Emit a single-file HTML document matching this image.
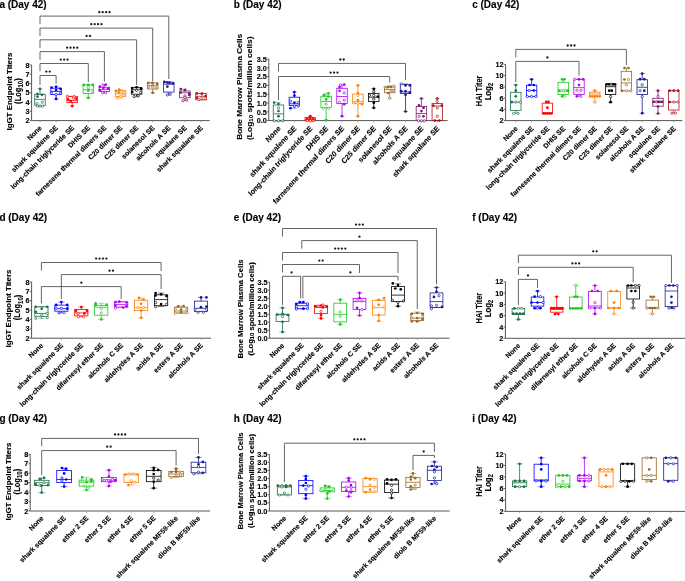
<!DOCTYPE html>
<html><head><meta charset="utf-8"><title>Figure</title>
<style>html,body{margin:0;padding:0;background:#fff;width:685px;height:581px;overflow:hidden}
svg{display:block;will-change:transform;font-family:"Liberation Sans",sans-serif}</style></head>
<body>
<svg width="685" height="581" viewBox="0 0 685 581">
<text x="-0.6" y="8.3" font-family="Liberation Sans, sans-serif" font-weight="bold" stroke="#000" stroke-width="0.12" font-size="10">a (Day 42)</text>
<line x1="31.6" y1="65" x2="31.6" y2="120.6" stroke="#555" stroke-width="1"/>
<line x1="29.8" y1="120.6" x2="31.6" y2="120.6" stroke="#555" stroke-width="0.9"/>
<text transform="translate(29.6,120.6) scale(1,1)" y="2.55" font-family="Liberation Sans, sans-serif" font-weight="bold" stroke="#000" stroke-width="0.12" font-size="7.3" text-anchor="end">2</text>
<line x1="29.8" y1="111.33" x2="31.6" y2="111.33" stroke="#555" stroke-width="0.9"/>
<text transform="translate(29.6,111.33) scale(1,1)" y="2.55" font-family="Liberation Sans, sans-serif" font-weight="bold" stroke="#000" stroke-width="0.12" font-size="7.3" text-anchor="end">3</text>
<line x1="29.8" y1="102.06" x2="31.6" y2="102.06" stroke="#555" stroke-width="0.9"/>
<text transform="translate(29.6,102.06) scale(1,1)" y="2.55" font-family="Liberation Sans, sans-serif" font-weight="bold" stroke="#000" stroke-width="0.12" font-size="7.3" text-anchor="end">4</text>
<line x1="29.8" y1="92.79" x2="31.6" y2="92.79" stroke="#555" stroke-width="0.9"/>
<text transform="translate(29.6,92.79) scale(1,1)" y="2.55" font-family="Liberation Sans, sans-serif" font-weight="bold" stroke="#000" stroke-width="0.12" font-size="7.3" text-anchor="end">5</text>
<line x1="29.8" y1="83.52" x2="31.6" y2="83.52" stroke="#555" stroke-width="0.9"/>
<text transform="translate(29.6,83.52) scale(1,1)" y="2.55" font-family="Liberation Sans, sans-serif" font-weight="bold" stroke="#000" stroke-width="0.12" font-size="7.3" text-anchor="end">6</text>
<line x1="29.8" y1="74.25" x2="31.6" y2="74.25" stroke="#555" stroke-width="0.9"/>
<text transform="translate(29.6,74.25) scale(1,1)" y="2.55" font-family="Liberation Sans, sans-serif" font-weight="bold" stroke="#000" stroke-width="0.12" font-size="7.3" text-anchor="end">7</text>
<line x1="29.8" y1="64.98" x2="31.6" y2="64.98" stroke="#555" stroke-width="0.9"/>
<text transform="translate(29.6,64.98) scale(1,1)" y="2.55" font-family="Liberation Sans, sans-serif" font-weight="bold" stroke="#000" stroke-width="0.12" font-size="7.3" text-anchor="end">8</text>
<line x1="31.6" y1="120.6" x2="209.6" y2="120.6" stroke="#555" stroke-width="1"/>
<line x1="40" y1="120.6" x2="40" y2="122.4" stroke="#999" stroke-width="0.8"/>
<text transform="translate(42.3,128.4) scale(1,1) rotate(-45)" font-family="Liberation Sans, sans-serif" font-weight="bold" stroke="#000" stroke-width="0.12" font-size="7" text-anchor="end">None</text>
<line x1="56.1" y1="120.6" x2="56.1" y2="122.4" stroke="#999" stroke-width="0.8"/>
<text transform="translate(58.4,128.4) scale(1,1) rotate(-45)" font-family="Liberation Sans, sans-serif" font-weight="bold" stroke="#000" stroke-width="0.12" font-size="7" text-anchor="end">shark squalene SE</text>
<line x1="72.2" y1="120.6" x2="72.2" y2="122.4" stroke="#999" stroke-width="0.8"/>
<text transform="translate(74.5,128.4) scale(1,1) rotate(-45)" font-family="Liberation Sans, sans-serif" font-weight="bold" stroke="#000" stroke-width="0.12" font-size="7" text-anchor="end">long-chain triglyceride SE</text>
<line x1="88.3" y1="120.6" x2="88.3" y2="122.4" stroke="#999" stroke-width="0.8"/>
<text transform="translate(90.6,128.4) scale(1,1) rotate(-45)" font-family="Liberation Sans, sans-serif" font-weight="bold" stroke="#000" stroke-width="0.12" font-size="7" text-anchor="end">DHIS SE</text>
<line x1="104.4" y1="120.6" x2="104.4" y2="122.4" stroke="#999" stroke-width="0.8"/>
<text transform="translate(106.7,128.4) scale(1,1) rotate(-45)" font-family="Liberation Sans, sans-serif" font-weight="bold" stroke="#000" stroke-width="0.12" font-size="7" text-anchor="end">farnesene thermal dimers SE</text>
<line x1="120.5" y1="120.6" x2="120.5" y2="122.4" stroke="#999" stroke-width="0.8"/>
<text transform="translate(122.8,128.4) scale(1,1) rotate(-45)" font-family="Liberation Sans, sans-serif" font-weight="bold" stroke="#000" stroke-width="0.12" font-size="7" text-anchor="end">C20 dimer SE</text>
<line x1="136.6" y1="120.6" x2="136.6" y2="122.4" stroke="#999" stroke-width="0.8"/>
<text transform="translate(138.9,128.4) scale(1,1) rotate(-45)" font-family="Liberation Sans, sans-serif" font-weight="bold" stroke="#000" stroke-width="0.12" font-size="7" text-anchor="end">C25 dimer SE</text>
<line x1="152.7" y1="120.6" x2="152.7" y2="122.4" stroke="#999" stroke-width="0.8"/>
<text transform="translate(155,128.4) scale(1,1) rotate(-45)" font-family="Liberation Sans, sans-serif" font-weight="bold" stroke="#000" stroke-width="0.12" font-size="7" text-anchor="end">solanesol SE</text>
<line x1="168.8" y1="120.6" x2="168.8" y2="122.4" stroke="#999" stroke-width="0.8"/>
<text transform="translate(171.1,128.4) scale(1,1) rotate(-45)" font-family="Liberation Sans, sans-serif" font-weight="bold" stroke="#000" stroke-width="0.12" font-size="7" text-anchor="end">alcohols A SE</text>
<line x1="184.9" y1="120.6" x2="184.9" y2="122.4" stroke="#999" stroke-width="0.8"/>
<text transform="translate(187.2,128.4) scale(1,1) rotate(-45)" font-family="Liberation Sans, sans-serif" font-weight="bold" stroke="#000" stroke-width="0.12" font-size="7" text-anchor="end">squalane SE</text>
<line x1="201" y1="120.6" x2="201" y2="122.4" stroke="#999" stroke-width="0.8"/>
<text transform="translate(203.3,128.4) scale(1,1) rotate(-45)" font-family="Liberation Sans, sans-serif" font-weight="bold" stroke="#000" stroke-width="0.12" font-size="7" text-anchor="end">shark squalane SE</text>
<text transform="translate(9.1,91.5) scale(1,1) rotate(-90)" font-family="Liberation Sans, sans-serif" font-weight="bold" stroke="#000" stroke-width="0.12" font-size="7.9" text-anchor="middle" dominant-baseline="central">IgGT Endpoint Titers</text>
<text transform="translate(17.9,91.1) scale(1,0.92) rotate(-90)" font-family="Liberation Sans, sans-serif" font-weight="bold" stroke="#000" stroke-width="0.12" font-size="8.2" text-anchor="middle" dominant-baseline="central">(Log<tspan font-size="6.6" dy="1.7">10</tspan><tspan dy="-1.7">)</tspan></text>
<g stroke="#1d7048" stroke-width="0.8" fill="none">
<line x1="40" y1="88.8" x2="40" y2="94.3"/>
<line x1="37.4" y1="88.8" x2="42.6" y2="88.8" stroke-opacity="0.55"/>
<line x1="40" y1="105.5" x2="40" y2="106.1"/>
<line x1="37.4" y1="106.1" x2="42.6" y2="106.1" stroke-opacity="0.55"/>
<rect x="34.75" y="94.3" width="10.5" height="11.2"/>
<line x1="34.75" y1="99.4" x2="45.25" y2="99.4"/>
</g>
<circle cx="40" cy="88.8" r="1.35" fill="#1d7048"/>
<circle cx="37.5" cy="93.9" r="1.35" fill="#1d7048"/>
<circle cx="42" cy="94.8" r="1.35" fill="#1d7048"/>
<circle cx="37.5" cy="96.7" r="1.35" fill="#1d7048"/>
<circle cx="42.3" cy="102.2" r="1.15" fill="#fff" stroke="#1d7048" stroke-width="0.7"/>
<circle cx="37.1" cy="103.7" r="1.15" fill="#fff" stroke="#1d7048" stroke-width="0.7"/>
<circle cx="37.5" cy="106" r="1.15" fill="#fff" stroke="#1d7048" stroke-width="0.7"/>
<circle cx="40" cy="106.1" r="1.15" fill="#fff" stroke="#1d7048" stroke-width="0.7"/>
<circle cx="42.6" cy="106" r="1.15" fill="#fff" stroke="#1d7048" stroke-width="0.7"/>
<g stroke="#0000ff" stroke-width="0.8" fill="none">
<line x1="56.1" y1="86.8" x2="56.1" y2="88.2"/>
<line x1="53.5" y1="86.8" x2="58.7" y2="86.8" stroke-opacity="0.55"/>
<line x1="56.1" y1="94.5" x2="56.1" y2="98.9"/>
<line x1="53.5" y1="98.9" x2="58.7" y2="98.9" stroke-opacity="0.55"/>
<rect x="50.85" y="88.2" width="10.5" height="6.3"/>
<line x1="50.85" y1="91.4" x2="61.35" y2="91.4"/>
</g>
<circle cx="51.5" cy="87.5" r="1.35" fill="#0000ff"/>
<circle cx="56.1" cy="86.8" r="1.35" fill="#0000ff"/>
<circle cx="60.4" cy="88.8" r="1.35" fill="#0000ff"/>
<circle cx="56.1" cy="90" r="1.35" fill="#0000ff"/>
<circle cx="51.4" cy="93.2" r="1.15" fill="#fff" stroke="#0000ff" stroke-width="0.7"/>
<circle cx="60.6" cy="93.2" r="1.15" fill="#fff" stroke="#0000ff" stroke-width="0.7"/>
<circle cx="56.1" cy="94.5" r="1.15" fill="#fff" stroke="#0000ff" stroke-width="0.7"/>
<circle cx="56.1" cy="98.9" r="1.35" fill="#0000ff"/>
<g stroke="#ff0000" stroke-width="0.8" fill="none">
<line x1="69.6" y1="96.2" x2="74.8" y2="96.2" stroke-opacity="0.55"/>
<line x1="72.2" y1="102.4" x2="72.2" y2="106.1"/>
<line x1="69.6" y1="106.1" x2="74.8" y2="106.1" stroke-opacity="0.55"/>
<rect x="66.95" y="96.4" width="10.5" height="6"/>
<line x1="66.95" y1="100.6" x2="77.45" y2="100.6"/>
</g>
<circle cx="67.4" cy="96.2" r="1.15" fill="#fff" stroke="#ff0000" stroke-width="0.7"/>
<circle cx="74.2" cy="96.5" r="1.15" fill="#fff" stroke="#ff0000" stroke-width="0.7"/>
<circle cx="73.6" cy="98.2" r="1.15" fill="#fff" stroke="#ff0000" stroke-width="0.7"/>
<circle cx="68.1" cy="99.3" r="1.35" fill="#ff0000"/>
<circle cx="76.2" cy="98.6" r="1.35" fill="#ff0000"/>
<circle cx="70.8" cy="101" r="1.35" fill="#ff0000"/>
<circle cx="72.2" cy="106.1" r="1.35" fill="#ff0000"/>
<g stroke="#1ec81e" stroke-width="0.8" fill="none">
<line x1="85.7" y1="84.9" x2="90.9" y2="84.9" stroke-opacity="0.55"/>
<line x1="88.3" y1="93.4" x2="88.3" y2="97.9"/>
<line x1="85.7" y1="97.9" x2="90.9" y2="97.9" stroke-opacity="0.55"/>
<rect x="83.05" y="84.9" width="10.5" height="8.5"/>
<line x1="83.05" y1="89.7" x2="93.55" y2="89.7"/>
</g>
<circle cx="83.8" cy="84.9" r="1.35" fill="#1ec81e"/>
<circle cx="88.3" cy="84.9" r="1.35" fill="#1ec81e"/>
<circle cx="92.8" cy="84.9" r="1.35" fill="#1ec81e"/>
<circle cx="88.3" cy="87.6" r="1.15" fill="#fff" stroke="#1ec81e" stroke-width="0.7"/>
<circle cx="88.3" cy="90.7" r="1.35" fill="#1ec81e"/>
<circle cx="92.8" cy="92.1" r="1.15" fill="#fff" stroke="#1ec81e" stroke-width="0.7"/>
<circle cx="88.3" cy="97.9" r="1.35" fill="#1ec81e"/>
<g stroke="#b000f0" stroke-width="0.8" fill="none">
<line x1="104.4" y1="84.7" x2="104.4" y2="87.3"/>
<line x1="101.8" y1="84.7" x2="107" y2="84.7" stroke-opacity="0.55"/>
<line x1="104.4" y1="91.4" x2="104.4" y2="92.8"/>
<line x1="101.8" y1="92.8" x2="107" y2="92.8" stroke-opacity="0.55"/>
<rect x="99.15" y="87.3" width="10.5" height="4.1"/>
<line x1="99.15" y1="89.6" x2="109.65" y2="89.6"/>
</g>
<circle cx="105.7" cy="84.7" r="1.35" fill="#b000f0"/>
<circle cx="103" cy="84.9" r="1.15" fill="#fff" stroke="#b000f0" stroke-width="0.7"/>
<circle cx="99.9" cy="86.6" r="1.35" fill="#b000f0"/>
<circle cx="103.4" cy="88" r="1.35" fill="#b000f0"/>
<circle cx="108.1" cy="88.6" r="1.35" fill="#b000f0"/>
<circle cx="99.9" cy="90.2" r="1.35" fill="#b000f0"/>
<circle cx="102.6" cy="92.8" r="1.15" fill="#fff" stroke="#b000f0" stroke-width="0.7"/>
<circle cx="105.4" cy="92.8" r="1.15" fill="#fff" stroke="#b000f0" stroke-width="0.7"/>
<g stroke="#ff8000" stroke-width="0.8" fill="none">
<line x1="120.5" y1="89.7" x2="120.5" y2="90.7"/>
<line x1="117.9" y1="89.7" x2="123.1" y2="89.7" stroke-opacity="0.55"/>
<line x1="120.5" y1="96.5" x2="120.5" y2="98.2"/>
<line x1="117.9" y1="98.2" x2="123.1" y2="98.2" stroke-opacity="0.55"/>
<rect x="115.25" y="90.7" width="10.5" height="5.8"/>
<line x1="115.25" y1="93.8" x2="125.75" y2="93.8"/>
</g>
<circle cx="119.1" cy="89.7" r="1.35" fill="#ff8000"/>
<circle cx="116" cy="90.9" r="1.35" fill="#ff8000"/>
<circle cx="118.8" cy="92.4" r="1.35" fill="#ff8000"/>
<circle cx="121.9" cy="91.7" r="1.15" fill="#fff" stroke="#ff8000" stroke-width="0.7"/>
<circle cx="124.6" cy="92.4" r="1.15" fill="#fff" stroke="#ff8000" stroke-width="0.7"/>
<circle cx="117.4" cy="98.2" r="1.15" fill="#fff" stroke="#ff8000" stroke-width="0.7"/>
<circle cx="120.5" cy="96.5" r="1.15" fill="#fff" stroke="#ff8000" stroke-width="0.7"/>
<circle cx="123.2" cy="95.8" r="1.15" fill="#fff" stroke="#ff8000" stroke-width="0.7"/>
<g stroke="#000000" stroke-width="0.8" fill="none">
<line x1="136.6" y1="87.3" x2="136.6" y2="87.7"/>
<line x1="134" y1="87.3" x2="139.2" y2="87.3" stroke-opacity="0.55"/>
<line x1="136.6" y1="94.2" x2="136.6" y2="96.6"/>
<line x1="134" y1="96.6" x2="139.2" y2="96.6" stroke-opacity="0.55"/>
<rect x="131.35" y="87.7" width="10.5" height="6.5"/>
<line x1="131.35" y1="89.7" x2="141.85" y2="89.7"/>
</g>
<circle cx="132.2" cy="88" r="1.35" fill="#000000"/>
<circle cx="136.6" cy="87.3" r="1.35" fill="#000000"/>
<circle cx="141.1" cy="88.7" r="1.35" fill="#000000"/>
<circle cx="136.6" cy="90.4" r="1.15" fill="#fff" stroke="#000000" stroke-width="0.7"/>
<circle cx="132.2" cy="91.9" r="1.35" fill="#000000"/>
<circle cx="140.6" cy="92.5" r="1.15" fill="#fff" stroke="#000000" stroke-width="0.7"/>
<circle cx="134.2" cy="96.6" r="1.15" fill="#fff" stroke="#000000" stroke-width="0.7"/>
<circle cx="138.3" cy="95.9" r="1.15" fill="#fff" stroke="#000000" stroke-width="0.7"/>
<g stroke="#9a6a2a" stroke-width="0.8" fill="none">
<line x1="150.1" y1="82.9" x2="155.3" y2="82.9" stroke-opacity="0.55"/>
<line x1="152.7" y1="89" x2="152.7" y2="92.8"/>
<line x1="150.1" y1="92.8" x2="155.3" y2="92.8" stroke-opacity="0.55"/>
<rect x="147.45" y="82.9" width="10.5" height="6.1"/>
<line x1="147.45" y1="85.6" x2="157.95" y2="85.6"/>
</g>
<circle cx="148.3" cy="82.9" r="1.35" fill="#9a6a2a"/>
<circle cx="152.4" cy="82.9" r="1.35" fill="#9a6a2a"/>
<circle cx="157.2" cy="83.9" r="1.35" fill="#9a6a2a"/>
<circle cx="152.7" cy="85.6" r="1.35" fill="#9a6a2a"/>
<circle cx="148.7" cy="87" r="1.15" fill="#fff" stroke="#9a6a2a" stroke-width="0.7"/>
<circle cx="152.7" cy="87" r="1.15" fill="#fff" stroke="#9a6a2a" stroke-width="0.7"/>
<circle cx="156.1" cy="88" r="1.15" fill="#fff" stroke="#9a6a2a" stroke-width="0.7"/>
<circle cx="152.7" cy="92.8" r="1.35" fill="#9a6a2a"/>
<g stroke="#1a1a99" stroke-width="0.8" fill="none">
<line x1="168.8" y1="81.8" x2="168.8" y2="82.2"/>
<line x1="166.2" y1="81.8" x2="171.4" y2="81.8" stroke-opacity="0.55"/>
<line x1="168.8" y1="92.1" x2="168.8" y2="94.9"/>
<line x1="166.2" y1="94.9" x2="171.4" y2="94.9" stroke-opacity="0.55"/>
<rect x="163.55" y="82.2" width="10.5" height="9.9"/>
<line x1="163.55" y1="84.2" x2="174.05" y2="84.2"/>
</g>
<circle cx="164.4" cy="81.8" r="1.35" fill="#1a1a99"/>
<circle cx="167.2" cy="82.5" r="1.35" fill="#1a1a99"/>
<circle cx="169.5" cy="82.9" r="1.35" fill="#1a1a99"/>
<circle cx="172.9" cy="83.5" r="1.35" fill="#1a1a99"/>
<circle cx="167.4" cy="86.6" r="1.35" fill="#1a1a99"/>
<circle cx="167.4" cy="94.9" r="1.15" fill="#fff" stroke="#1a1a99" stroke-width="0.7"/>
<circle cx="170.2" cy="94.2" r="1.15" fill="#fff" stroke="#1a1a99" stroke-width="0.7"/>
<g stroke="#7a1a6e" stroke-width="0.8" fill="none">
<line x1="184.9" y1="89" x2="184.9" y2="91"/>
<line x1="182.3" y1="89" x2="187.5" y2="89" stroke-opacity="0.55"/>
<line x1="184.9" y1="97.8" x2="184.9" y2="100.7"/>
<line x1="182.3" y1="100.7" x2="187.5" y2="100.7" stroke-opacity="0.55"/>
<rect x="179.65" y="91" width="10.5" height="6.8"/>
<line x1="179.65" y1="92.8" x2="190.15" y2="92.8"/>
</g>
<circle cx="180.8" cy="89" r="1.35" fill="#7a1a6e"/>
<circle cx="184.9" cy="90.2" r="1.35" fill="#7a1a6e"/>
<circle cx="180.5" cy="92.5" r="1.35" fill="#7a1a6e"/>
<circle cx="189.3" cy="93.7" r="1.35" fill="#7a1a6e"/>
<circle cx="189.3" cy="95" r="1.35" fill="#7a1a6e"/>
<circle cx="184.9" cy="96" r="1.15" fill="#fff" stroke="#7a1a6e" stroke-width="0.7"/>
<circle cx="184.9" cy="97.5" r="1.15" fill="#fff" stroke="#7a1a6e" stroke-width="0.7"/>
<circle cx="182.9" cy="100.7" r="1.15" fill="#fff" stroke="#7a1a6e" stroke-width="0.7"/>
<circle cx="186.7" cy="100" r="1.15" fill="#fff" stroke="#7a1a6e" stroke-width="0.7"/>
<g stroke="#b0141e" stroke-width="0.8" fill="none">
<line x1="198.4" y1="93.4" x2="203.6" y2="93.4" stroke-opacity="0.55"/>
<line x1="198.4" y1="99.8" x2="203.6" y2="99.8" stroke-opacity="0.55"/>
<rect x="195.75" y="93.4" width="10.5" height="6.4"/>
<line x1="195.75" y1="96.3" x2="206.25" y2="96.3"/>
</g>
<circle cx="196.9" cy="93.4" r="1.35" fill="#b0141e"/>
<circle cx="201.9" cy="93.7" r="1.35" fill="#b0141e"/>
<circle cx="205.7" cy="96" r="1.35" fill="#b0141e"/>
<circle cx="196.9" cy="97.8" r="1.35" fill="#b0141e"/>
<circle cx="202" cy="97.2" r="1.15" fill="#fff" stroke="#b0141e" stroke-width="0.7"/>
<circle cx="205.7" cy="98.7" r="1.15" fill="#fff" stroke="#b0141e" stroke-width="0.7"/>
<circle cx="198.7" cy="99.5" r="1.15" fill="#fff" stroke="#b0141e" stroke-width="0.7"/>
<path d="M40,24.2 V16.1 H168.8 V79" stroke="#555" stroke-width="0.9" fill="none"/>
<circle cx="99.3" cy="12.2" r="1.15" fill="#1a1a1a"/>
<circle cx="102.7" cy="12.2" r="1.15" fill="#1a1a1a"/>
<circle cx="106.1" cy="12.2" r="1.15" fill="#1a1a1a"/>
<circle cx="109.5" cy="12.2" r="1.15" fill="#1a1a1a"/>
<path d="M40,36 V28.1 H152.7 V81" stroke="#555" stroke-width="0.9" fill="none"/>
<circle cx="91.25" cy="24.2" r="1.15" fill="#1a1a1a"/>
<circle cx="94.65" cy="24.2" r="1.15" fill="#1a1a1a"/>
<circle cx="98.05" cy="24.2" r="1.15" fill="#1a1a1a"/>
<circle cx="101.45" cy="24.2" r="1.15" fill="#1a1a1a"/>
<path d="M40,48 V39.8 H136.6 V85" stroke="#555" stroke-width="0.9" fill="none"/>
<circle cx="86.6" cy="35.9" r="1.15" fill="#1a1a1a"/>
<circle cx="90" cy="35.9" r="1.15" fill="#1a1a1a"/>
<path d="M40,59.9 V51.6 H104.4 V81.5" stroke="#555" stroke-width="0.9" fill="none"/>
<circle cx="67.1" cy="47.7" r="1.15" fill="#1a1a1a"/>
<circle cx="70.5" cy="47.7" r="1.15" fill="#1a1a1a"/>
<circle cx="73.9" cy="47.7" r="1.15" fill="#1a1a1a"/>
<circle cx="77.3" cy="47.7" r="1.15" fill="#1a1a1a"/>
<path d="M40,71.2 V63.5 H88.3 V82" stroke="#555" stroke-width="0.9" fill="none"/>
<circle cx="60.75" cy="59.6" r="1.15" fill="#1a1a1a"/>
<circle cx="64.15" cy="59.6" r="1.15" fill="#1a1a1a"/>
<circle cx="67.55" cy="59.6" r="1.15" fill="#1a1a1a"/>
<path d="M40,85 V75.5 H56.1 V83.6" stroke="#555" stroke-width="0.9" fill="none"/>
<circle cx="46.35" cy="71.6" r="1.15" fill="#1a1a1a"/>
<circle cx="49.75" cy="71.6" r="1.15" fill="#1a1a1a"/>
<text x="233.8" y="8.3" font-family="Liberation Sans, sans-serif" font-weight="bold" stroke="#000" stroke-width="0.12" font-size="10">b (Day 42)</text>
<line x1="268.8" y1="59" x2="268.8" y2="120.6" stroke="#555" stroke-width="1"/>
<line x1="267" y1="120.6" x2="268.8" y2="120.6" stroke="#555" stroke-width="0.9"/>
<text transform="translate(266.8,120.6) scale(1,1.1)" y="2.55" font-family="Liberation Sans, sans-serif" font-weight="bold" stroke="#000" stroke-width="0.12" font-size="7.3" text-anchor="end">0.0</text>
<line x1="267" y1="111.8" x2="268.8" y2="111.8" stroke="#555" stroke-width="0.9"/>
<text transform="translate(266.8,111.8) scale(1,1.1)" y="2.55" font-family="Liberation Sans, sans-serif" font-weight="bold" stroke="#000" stroke-width="0.12" font-size="7.3" text-anchor="end">0.5</text>
<line x1="267" y1="103" x2="268.8" y2="103" stroke="#555" stroke-width="0.9"/>
<text transform="translate(266.8,103) scale(1,1.1)" y="2.55" font-family="Liberation Sans, sans-serif" font-weight="bold" stroke="#000" stroke-width="0.12" font-size="7.3" text-anchor="end">1.0</text>
<line x1="267" y1="94.2" x2="268.8" y2="94.2" stroke="#555" stroke-width="0.9"/>
<text transform="translate(266.8,94.2) scale(1,1.1)" y="2.55" font-family="Liberation Sans, sans-serif" font-weight="bold" stroke="#000" stroke-width="0.12" font-size="7.3" text-anchor="end">1.5</text>
<line x1="267" y1="85.4" x2="268.8" y2="85.4" stroke="#555" stroke-width="0.9"/>
<text transform="translate(266.8,85.4) scale(1,1.1)" y="2.55" font-family="Liberation Sans, sans-serif" font-weight="bold" stroke="#000" stroke-width="0.12" font-size="7.3" text-anchor="end">2.0</text>
<line x1="267" y1="76.6" x2="268.8" y2="76.6" stroke="#555" stroke-width="0.9"/>
<text transform="translate(266.8,76.6) scale(1,1.1)" y="2.55" font-family="Liberation Sans, sans-serif" font-weight="bold" stroke="#000" stroke-width="0.12" font-size="7.3" text-anchor="end">2.5</text>
<line x1="267" y1="67.8" x2="268.8" y2="67.8" stroke="#555" stroke-width="0.9"/>
<text transform="translate(266.8,67.8) scale(1,1.1)" y="2.55" font-family="Liberation Sans, sans-serif" font-weight="bold" stroke="#000" stroke-width="0.12" font-size="7.3" text-anchor="end">3.0</text>
<line x1="267" y1="59" x2="268.8" y2="59" stroke="#555" stroke-width="0.9"/>
<text transform="translate(266.8,59) scale(1,1.1)" y="2.55" font-family="Liberation Sans, sans-serif" font-weight="bold" stroke="#000" stroke-width="0.12" font-size="7.3" text-anchor="end">3.5</text>
<line x1="268.8" y1="120.6" x2="447.6" y2="120.6" stroke="#555" stroke-width="1"/>
<line x1="278.5" y1="120.6" x2="278.5" y2="122.4" stroke="#999" stroke-width="0.8"/>
<text transform="translate(280.98,129) scale(1,1.1) rotate(-45)" font-family="Liberation Sans, sans-serif" font-weight="bold" stroke="#000" stroke-width="0.12" font-size="7.05" text-anchor="end">None</text>
<line x1="294.38" y1="120.6" x2="294.38" y2="122.4" stroke="#999" stroke-width="0.8"/>
<text transform="translate(296.86,129) scale(1,1.1) rotate(-45)" font-family="Liberation Sans, sans-serif" font-weight="bold" stroke="#000" stroke-width="0.12" font-size="7.05" text-anchor="end">shark squalene SE</text>
<line x1="310.26" y1="120.6" x2="310.26" y2="122.4" stroke="#999" stroke-width="0.8"/>
<text transform="translate(312.74,129) scale(1,1.1) rotate(-45)" font-family="Liberation Sans, sans-serif" font-weight="bold" stroke="#000" stroke-width="0.12" font-size="7.05" text-anchor="end">long-chain triglyceride SE</text>
<line x1="326.14" y1="120.6" x2="326.14" y2="122.4" stroke="#999" stroke-width="0.8"/>
<text transform="translate(328.62,129) scale(1,1.1) rotate(-45)" font-family="Liberation Sans, sans-serif" font-weight="bold" stroke="#000" stroke-width="0.12" font-size="7.05" text-anchor="end">DHIS SE</text>
<line x1="342.02" y1="120.6" x2="342.02" y2="122.4" stroke="#999" stroke-width="0.8"/>
<text transform="translate(344.5,129) scale(1,1.1) rotate(-45)" font-family="Liberation Sans, sans-serif" font-weight="bold" stroke="#000" stroke-width="0.12" font-size="7.05" text-anchor="end">farnesene thermal dimers SE</text>
<line x1="357.9" y1="120.6" x2="357.9" y2="122.4" stroke="#999" stroke-width="0.8"/>
<text transform="translate(360.38,129) scale(1,1.1) rotate(-45)" font-family="Liberation Sans, sans-serif" font-weight="bold" stroke="#000" stroke-width="0.12" font-size="7.05" text-anchor="end">C20 dimer SE</text>
<line x1="373.78" y1="120.6" x2="373.78" y2="122.4" stroke="#999" stroke-width="0.8"/>
<text transform="translate(376.26,129) scale(1,1.1) rotate(-45)" font-family="Liberation Sans, sans-serif" font-weight="bold" stroke="#000" stroke-width="0.12" font-size="7.05" text-anchor="end">C25 dimer SE</text>
<line x1="389.66" y1="120.6" x2="389.66" y2="122.4" stroke="#999" stroke-width="0.8"/>
<text transform="translate(392.14,129) scale(1,1.1) rotate(-45)" font-family="Liberation Sans, sans-serif" font-weight="bold" stroke="#000" stroke-width="0.12" font-size="7.05" text-anchor="end">solanesol SE</text>
<line x1="405.54" y1="120.6" x2="405.54" y2="122.4" stroke="#999" stroke-width="0.8"/>
<text transform="translate(408.02,129) scale(1,1.1) rotate(-45)" font-family="Liberation Sans, sans-serif" font-weight="bold" stroke="#000" stroke-width="0.12" font-size="7.05" text-anchor="end">alcohols A SE</text>
<line x1="421.42" y1="120.6" x2="421.42" y2="122.4" stroke="#999" stroke-width="0.8"/>
<text transform="translate(423.9,129) scale(1,1.1) rotate(-45)" font-family="Liberation Sans, sans-serif" font-weight="bold" stroke="#000" stroke-width="0.12" font-size="7.05" text-anchor="end">squalane SE</text>
<line x1="437.3" y1="120.6" x2="437.3" y2="122.4" stroke="#999" stroke-width="0.8"/>
<text transform="translate(439.78,129) scale(1,1.1) rotate(-45)" font-family="Liberation Sans, sans-serif" font-weight="bold" stroke="#000" stroke-width="0.12" font-size="7.05" text-anchor="end">shark squalane SE</text>
<text transform="translate(239.6,86.8) scale(1,1.1) rotate(-90)" font-family="Liberation Sans, sans-serif" font-weight="bold" stroke="#000" stroke-width="0.12" font-size="7.55" text-anchor="middle" dominant-baseline="central">Bone Marrow Plasma Cells</text>
<text transform="translate(249.2,88.2) scale(1,1.1) rotate(-90)" font-family="Liberation Sans, sans-serif" font-weight="bold" stroke="#000" stroke-width="0.12" font-size="7.7" text-anchor="middle" dominant-baseline="central">(Log<tspan font-size="5.6" dy="1.5">10</tspan><tspan dy="-1.5"> spots/million cells)</tspan></text>
<g stroke="#1d7048" stroke-width="0.8" fill="none">
<line x1="278.5" y1="102.6" x2="278.5" y2="105"/>
<line x1="276.1" y1="102.6" x2="280.9" y2="102.6" stroke-opacity="0.55"/>
<line x1="276.1" y1="120.8" x2="280.9" y2="120.8" stroke-opacity="0.55"/>
<rect x="273.25" y="105" width="10.5" height="15.8"/>
<line x1="273.25" y1="113.8" x2="283.75" y2="113.8"/>
</g>
<circle cx="274.2" cy="102.6" r="1.35" fill="#1d7048"/>
<circle cx="278.5" cy="104" r="1.35" fill="#1d7048"/>
<circle cx="278.5" cy="107.8" r="1.15" fill="#fff" stroke="#1d7048" stroke-width="0.7"/>
<circle cx="278.5" cy="111" r="1.35" fill="#1d7048"/>
<circle cx="278.5" cy="116.2" r="1.35" fill="#1d7048"/>
<circle cx="274.3" cy="120.8" r="1.15" fill="#fff" stroke="#1d7048" stroke-width="0.7"/>
<circle cx="278.5" cy="120.8" r="1.15" fill="#fff" stroke="#1d7048" stroke-width="0.7"/>
<circle cx="282.7" cy="120.8" r="1.15" fill="#fff" stroke="#1d7048" stroke-width="0.7"/>
<g stroke="#0000ff" stroke-width="0.8" fill="none">
<line x1="294.38" y1="92.1" x2="294.38" y2="97.2"/>
<line x1="291.98" y1="92.1" x2="296.78" y2="92.1" stroke-opacity="0.55"/>
<line x1="294.38" y1="105.4" x2="294.38" y2="108.2"/>
<line x1="291.98" y1="108.2" x2="296.78" y2="108.2" stroke-opacity="0.55"/>
<rect x="289.13" y="97.2" width="10.5" height="8.2"/>
<line x1="289.13" y1="103.8" x2="299.63" y2="103.8"/>
</g>
<circle cx="294.38" cy="92.1" r="1.35" fill="#0000ff"/>
<circle cx="294.38" cy="95.6" r="1.35" fill="#0000ff"/>
<circle cx="290.48" cy="101.2" r="1.15" fill="#fff" stroke="#0000ff" stroke-width="0.7"/>
<circle cx="294.38" cy="102.6" r="1.35" fill="#0000ff"/>
<circle cx="298.28" cy="102.6" r="1.15" fill="#fff" stroke="#0000ff" stroke-width="0.7"/>
<circle cx="298.28" cy="106" r="1.15" fill="#fff" stroke="#0000ff" stroke-width="0.7"/>
<circle cx="294.38" cy="106" r="1.15" fill="#fff" stroke="#0000ff" stroke-width="0.7"/>
<circle cx="290.48" cy="108.2" r="1.35" fill="#0000ff"/>
<g stroke="#ff0000" stroke-width="0.8" fill="none">
<line x1="310.26" y1="116.2" x2="310.26" y2="117.6"/>
<line x1="307.86" y1="116.2" x2="312.66" y2="116.2" stroke-opacity="0.55"/>
<line x1="307.86" y1="120.8" x2="312.66" y2="120.8" stroke-opacity="0.55"/>
<rect x="305.01" y="117.6" width="10.5" height="3.2"/>
<line x1="305.01" y1="119.5" x2="315.51" y2="119.5"/>
</g>
<circle cx="310.26" cy="116.2" r="1.35" fill="#ff0000"/>
<circle cx="307.26" cy="118.7" r="1.35" fill="#ff0000"/>
<circle cx="310.26" cy="118.7" r="1.35" fill="#ff0000"/>
<circle cx="313.26" cy="118.7" r="1.35" fill="#ff0000"/>
<circle cx="307.26" cy="120.8" r="1.15" fill="#fff" stroke="#ff0000" stroke-width="0.7"/>
<circle cx="310.26" cy="120.8" r="1.15" fill="#fff" stroke="#ff0000" stroke-width="0.7"/>
<circle cx="313.26" cy="120.8" r="1.15" fill="#fff" stroke="#ff0000" stroke-width="0.7"/>
<g stroke="#1ec81e" stroke-width="0.8" fill="none">
<line x1="326.14" y1="93.4" x2="326.14" y2="96.3"/>
<line x1="323.74" y1="93.4" x2="328.54" y2="93.4" stroke-opacity="0.55"/>
<line x1="326.14" y1="107.5" x2="326.14" y2="120.1"/>
<line x1="323.74" y1="120.1" x2="328.54" y2="120.1" stroke-opacity="0.55"/>
<rect x="320.89" y="96.3" width="10.5" height="11.2"/>
<line x1="320.89" y1="101.5" x2="331.39" y2="101.5"/>
</g>
<circle cx="323.84" cy="95.2" r="1.35" fill="#1ec81e"/>
<circle cx="328.54" cy="93.4" r="1.35" fill="#1ec81e"/>
<circle cx="328.14" cy="96.6" r="1.35" fill="#1ec81e"/>
<circle cx="326.14" cy="99.4" r="1.35" fill="#1ec81e"/>
<circle cx="326.14" cy="104.2" r="1.15" fill="#fff" stroke="#1ec81e" stroke-width="0.7"/>
<circle cx="323.44" cy="108.2" r="1.15" fill="#fff" stroke="#1ec81e" stroke-width="0.7"/>
<circle cx="328.54" cy="108.2" r="1.15" fill="#fff" stroke="#1ec81e" stroke-width="0.7"/>
<circle cx="326.14" cy="120.1" r="1.35" fill="#1ec81e"/>
<g stroke="#b000f0" stroke-width="0.8" fill="none">
<line x1="342.02" y1="84.7" x2="342.02" y2="88.3"/>
<line x1="339.62" y1="84.7" x2="344.42" y2="84.7" stroke-opacity="0.55"/>
<line x1="342.02" y1="103.5" x2="342.02" y2="116.2"/>
<line x1="339.62" y1="116.2" x2="344.42" y2="116.2" stroke-opacity="0.55"/>
<rect x="336.77" y="88.3" width="10.5" height="15.2"/>
<line x1="336.77" y1="96.5" x2="347.27" y2="96.5"/>
</g>
<circle cx="344.22" cy="84.7" r="1.35" fill="#b000f0"/>
<circle cx="340.62" cy="85" r="1.15" fill="#fff" stroke="#b000f0" stroke-width="0.7"/>
<circle cx="339.52" cy="87" r="1.35" fill="#b000f0"/>
<circle cx="339.52" cy="90.8" r="1.35" fill="#b000f0"/>
<circle cx="344.22" cy="93" r="1.15" fill="#fff" stroke="#b000f0" stroke-width="0.7"/>
<circle cx="344.22" cy="100.2" r="1.15" fill="#fff" stroke="#b000f0" stroke-width="0.7"/>
<circle cx="339.52" cy="102.4" r="1.15" fill="#fff" stroke="#b000f0" stroke-width="0.7"/>
<circle cx="344.22" cy="104.2" r="1.35" fill="#b000f0"/>
<circle cx="342.02" cy="116.2" r="1.35" fill="#b000f0"/>
<g stroke="#ff8000" stroke-width="0.8" fill="none">
<line x1="357.9" y1="85.4" x2="357.9" y2="94.1"/>
<line x1="355.5" y1="85.4" x2="360.3" y2="85.4" stroke-opacity="0.55"/>
<line x1="357.9" y1="103.5" x2="357.9" y2="116.2"/>
<line x1="355.5" y1="116.2" x2="360.3" y2="116.2" stroke-opacity="0.55"/>
<rect x="352.65" y="94.1" width="10.5" height="9.4"/>
<line x1="352.65" y1="101.7" x2="363.15" y2="101.7"/>
</g>
<circle cx="357.9" cy="85.4" r="1.35" fill="#ff8000"/>
<circle cx="357.9" cy="93" r="1.35" fill="#ff8000"/>
<circle cx="357.9" cy="95.5" r="1.15" fill="#fff" stroke="#ff8000" stroke-width="0.7"/>
<circle cx="357.9" cy="100.2" r="1.35" fill="#ff8000"/>
<circle cx="353.6" cy="102.8" r="1.15" fill="#fff" stroke="#ff8000" stroke-width="0.7"/>
<circle cx="357.9" cy="103.5" r="1.15" fill="#fff" stroke="#ff8000" stroke-width="0.7"/>
<circle cx="361.9" cy="104.2" r="1.35" fill="#ff8000"/>
<circle cx="357.9" cy="116.2" r="1.35" fill="#ff8000"/>
<g stroke="#000000" stroke-width="0.8" fill="none">
<line x1="373.78" y1="88.8" x2="373.78" y2="93.4"/>
<line x1="371.38" y1="88.8" x2="376.18" y2="88.8" stroke-opacity="0.55"/>
<line x1="373.78" y1="101.5" x2="373.78" y2="107.8"/>
<line x1="371.38" y1="107.8" x2="376.18" y2="107.8" stroke-opacity="0.55"/>
<rect x="368.53" y="93.4" width="10.5" height="8.1"/>
<line x1="368.53" y1="97.2" x2="379.03" y2="97.2"/>
</g>
<circle cx="373.78" cy="88.8" r="1.35" fill="#000000"/>
<circle cx="373.78" cy="91.6" r="1.15" fill="#fff" stroke="#000000" stroke-width="0.7"/>
<circle cx="369.48" cy="95.2" r="1.15" fill="#fff" stroke="#000000" stroke-width="0.7"/>
<circle cx="373.78" cy="95.5" r="1.15" fill="#fff" stroke="#000000" stroke-width="0.7"/>
<circle cx="377.88" cy="96.6" r="1.35" fill="#000000"/>
<circle cx="373.78" cy="99" r="1.15" fill="#fff" stroke="#000000" stroke-width="0.7"/>
<circle cx="373.78" cy="102.8" r="1.35" fill="#000000"/>
<circle cx="373.78" cy="107.8" r="1.35" fill="#000000"/>
<g stroke="#9a6a2a" stroke-width="0.8" fill="none">
<line x1="389.66" y1="86.1" x2="389.66" y2="86.9"/>
<line x1="387.26" y1="86.1" x2="392.06" y2="86.1" stroke-opacity="0.55"/>
<line x1="389.66" y1="92.7" x2="389.66" y2="98.1"/>
<line x1="387.26" y1="98.1" x2="392.06" y2="98.1" stroke-opacity="0.55"/>
<rect x="384.41" y="86.9" width="10.5" height="5.8"/>
<line x1="384.41" y1="89.4" x2="394.91" y2="89.4"/>
</g>
<circle cx="385.16" cy="87.2" r="1.15" fill="#fff" stroke="#9a6a2a" stroke-width="0.7"/>
<circle cx="388.06" cy="86.9" r="1.35" fill="#9a6a2a"/>
<circle cx="390.96" cy="86.9" r="1.35" fill="#9a6a2a"/>
<circle cx="393.86" cy="86.1" r="1.15" fill="#fff" stroke="#9a6a2a" stroke-width="0.7"/>
<circle cx="385.86" cy="88.6" r="1.15" fill="#fff" stroke="#9a6a2a" stroke-width="0.7"/>
<circle cx="388.06" cy="93" r="1.35" fill="#9a6a2a"/>
<circle cx="390.96" cy="90.8" r="1.15" fill="#fff" stroke="#9a6a2a" stroke-width="0.7"/>
<circle cx="393.46" cy="90.8" r="1.15" fill="#fff" stroke="#9a6a2a" stroke-width="0.7"/>
<circle cx="389.66" cy="98.1" r="1.15" fill="#fff" stroke="#9a6a2a" stroke-width="0.7"/>
<g stroke="#1a1a99" stroke-width="0.8" fill="none">
<line x1="405.54" y1="84" x2="405.54" y2="84.3"/>
<line x1="403.14" y1="84" x2="407.94" y2="84" stroke-opacity="0.55"/>
<line x1="405.54" y1="93.4" x2="405.54" y2="111.5"/>
<line x1="403.14" y1="111.5" x2="407.94" y2="111.5" stroke-opacity="0.55"/>
<rect x="400.29" y="84.3" width="10.5" height="9.1"/>
<line x1="400.29" y1="91.9" x2="410.79" y2="91.9"/>
</g>
<circle cx="401.24" cy="84" r="1.15" fill="#fff" stroke="#1a1a99" stroke-width="0.7"/>
<circle cx="405.54" cy="85.4" r="1.35" fill="#1a1a99"/>
<circle cx="409.84" cy="85.4" r="1.35" fill="#1a1a99"/>
<circle cx="401.24" cy="91.2" r="1.35" fill="#1a1a99"/>
<circle cx="405.54" cy="91.2" r="1.35" fill="#1a1a99"/>
<circle cx="409.84" cy="92.7" r="1.35" fill="#1a1a99"/>
<circle cx="405.54" cy="94.8" r="1.35" fill="#1a1a99"/>
<circle cx="405.54" cy="111.5" r="1.35" fill="#1a1a99"/>
<g stroke="#7a1a6e" stroke-width="0.8" fill="none">
<line x1="421.42" y1="98.5" x2="421.42" y2="106.5"/>
<line x1="419.02" y1="98.5" x2="423.82" y2="98.5" stroke-opacity="0.55"/>
<line x1="421.42" y1="120.5" x2="421.42" y2="120.8"/>
<line x1="419.02" y1="120.8" x2="423.82" y2="120.8" stroke-opacity="0.55"/>
<rect x="416.17" y="106.5" width="10.5" height="14"/>
<line x1="416.17" y1="113.5" x2="426.67" y2="113.5"/>
</g>
<circle cx="421.42" cy="98.5" r="1.35" fill="#7a1a6e"/>
<circle cx="419.02" cy="105.3" r="1.35" fill="#7a1a6e"/>
<circle cx="423.52" cy="107.9" r="1.35" fill="#7a1a6e"/>
<circle cx="421.42" cy="111.1" r="1.35" fill="#7a1a6e"/>
<circle cx="419.02" cy="116.3" r="1.15" fill="#fff" stroke="#7a1a6e" stroke-width="0.7"/>
<circle cx="423.52" cy="116.3" r="1.35" fill="#7a1a6e"/>
<circle cx="418.52" cy="120.8" r="1.15" fill="#fff" stroke="#7a1a6e" stroke-width="0.7"/>
<circle cx="421.42" cy="120.8" r="1.15" fill="#fff" stroke="#7a1a6e" stroke-width="0.7"/>
<circle cx="424.32" cy="120.8" r="1.15" fill="#fff" stroke="#7a1a6e" stroke-width="0.7"/>
<g stroke="#b0141e" stroke-width="0.8" fill="none">
<line x1="437.3" y1="98.5" x2="437.3" y2="103.5"/>
<line x1="434.9" y1="98.5" x2="439.7" y2="98.5" stroke-opacity="0.55"/>
<line x1="434.9" y1="120.6" x2="439.7" y2="120.6" stroke-opacity="0.55"/>
<rect x="432.05" y="103.5" width="10.5" height="17"/>
<line x1="432.05" y1="106" x2="442.55" y2="106"/>
</g>
<circle cx="437.3" cy="98.5" r="1.35" fill="#b0141e"/>
<circle cx="437.3" cy="101.4" r="1.15" fill="#fff" stroke="#b0141e" stroke-width="0.7"/>
<circle cx="433.3" cy="105.6" r="1.35" fill="#b0141e"/>
<circle cx="441.8" cy="105.6" r="1.35" fill="#b0141e"/>
<circle cx="437.3" cy="107.9" r="1.15" fill="#fff" stroke="#b0141e" stroke-width="0.7"/>
<circle cx="437.3" cy="116.3" r="1.15" fill="#fff" stroke="#b0141e" stroke-width="0.7"/>
<circle cx="434.9" cy="120.6" r="1.35" fill="#b0141e"/>
<circle cx="439.4" cy="120.6" r="1.35" fill="#b0141e"/>
<path d="M278.5,71.5 V63.4 H405.54 V80" stroke="#555" stroke-width="0.9" fill="none"/>
<circle cx="340.32" cy="59.5" r="1.15" fill="#1a1a1a"/>
<circle cx="343.72" cy="59.5" r="1.15" fill="#1a1a1a"/>
<path d="M278.5,100 V76.5 H389.66 V82.6" stroke="#555" stroke-width="0.9" fill="none"/>
<circle cx="330.68" cy="72.6" r="1.15" fill="#1a1a1a"/>
<circle cx="334.08" cy="72.6" r="1.15" fill="#1a1a1a"/>
<circle cx="337.48" cy="72.6" r="1.15" fill="#1a1a1a"/>
<text x="472.2" y="8.3" font-family="Liberation Sans, sans-serif" font-weight="bold" stroke="#000" stroke-width="0.12" font-size="10">c (Day 42)</text>
<line x1="505.6" y1="64.4" x2="505.6" y2="120.6" stroke="#555" stroke-width="1"/>
<line x1="503.8" y1="120.6" x2="505.6" y2="120.6" stroke="#555" stroke-width="0.9"/>
<text transform="translate(503.6,120.6) scale(1,1)" y="2.55" font-family="Liberation Sans, sans-serif" font-weight="bold" stroke="#000" stroke-width="0.12" font-size="7.3" text-anchor="end">2</text>
<line x1="503.8" y1="109.36" x2="505.6" y2="109.36" stroke="#555" stroke-width="0.9"/>
<text transform="translate(503.6,109.36) scale(1,1)" y="2.55" font-family="Liberation Sans, sans-serif" font-weight="bold" stroke="#000" stroke-width="0.12" font-size="7.3" text-anchor="end">4</text>
<line x1="503.8" y1="98.12" x2="505.6" y2="98.12" stroke="#555" stroke-width="0.9"/>
<text transform="translate(503.6,98.12) scale(1,1)" y="2.55" font-family="Liberation Sans, sans-serif" font-weight="bold" stroke="#000" stroke-width="0.12" font-size="7.3" text-anchor="end">6</text>
<line x1="503.8" y1="86.88" x2="505.6" y2="86.88" stroke="#555" stroke-width="0.9"/>
<text transform="translate(503.6,86.88) scale(1,1)" y="2.55" font-family="Liberation Sans, sans-serif" font-weight="bold" stroke="#000" stroke-width="0.12" font-size="7.3" text-anchor="end">8</text>
<line x1="503.8" y1="75.64" x2="505.6" y2="75.64" stroke="#555" stroke-width="0.9"/>
<text transform="translate(503.6,75.64) scale(1,1)" y="2.55" font-family="Liberation Sans, sans-serif" font-weight="bold" stroke="#000" stroke-width="0.12" font-size="7.3" text-anchor="end">10</text>
<line x1="503.8" y1="64.4" x2="505.6" y2="64.4" stroke="#555" stroke-width="0.9"/>
<text transform="translate(503.6,64.4) scale(1,1)" y="2.55" font-family="Liberation Sans, sans-serif" font-weight="bold" stroke="#000" stroke-width="0.12" font-size="7.3" text-anchor="end">12</text>
<line x1="505.6" y1="120.6" x2="682.4" y2="120.6" stroke="#555" stroke-width="1"/>
<line x1="515.8" y1="120.6" x2="515.8" y2="122.4" stroke="#999" stroke-width="0.8"/>
<text transform="translate(518.31,129.1) scale(1,1) rotate(-45)" font-family="Liberation Sans, sans-serif" font-weight="bold" stroke="#000" stroke-width="0.12" font-size="7" text-anchor="end">None</text>
<line x1="531.6" y1="120.6" x2="531.6" y2="122.4" stroke="#999" stroke-width="0.8"/>
<text transform="translate(534.11,129.1) scale(1,1) rotate(-45)" font-family="Liberation Sans, sans-serif" font-weight="bold" stroke="#000" stroke-width="0.12" font-size="7" text-anchor="end">shark squalene SE</text>
<line x1="547.4" y1="120.6" x2="547.4" y2="122.4" stroke="#999" stroke-width="0.8"/>
<text transform="translate(549.91,129.1) scale(1,1) rotate(-45)" font-family="Liberation Sans, sans-serif" font-weight="bold" stroke="#000" stroke-width="0.12" font-size="7" text-anchor="end">long-chain triglyceride SE</text>
<line x1="563.2" y1="120.6" x2="563.2" y2="122.4" stroke="#999" stroke-width="0.8"/>
<text transform="translate(565.71,129.1) scale(1,1) rotate(-45)" font-family="Liberation Sans, sans-serif" font-weight="bold" stroke="#000" stroke-width="0.12" font-size="7" text-anchor="end">DHIS SE</text>
<line x1="579" y1="120.6" x2="579" y2="122.4" stroke="#999" stroke-width="0.8"/>
<text transform="translate(581.51,129.1) scale(1,1) rotate(-45)" font-family="Liberation Sans, sans-serif" font-weight="bold" stroke="#000" stroke-width="0.12" font-size="7" text-anchor="end">farnesene thermal dimers SE</text>
<line x1="594.8" y1="120.6" x2="594.8" y2="122.4" stroke="#999" stroke-width="0.8"/>
<text transform="translate(597.31,129.1) scale(1,1) rotate(-45)" font-family="Liberation Sans, sans-serif" font-weight="bold" stroke="#000" stroke-width="0.12" font-size="7" text-anchor="end">C20 dimer SE</text>
<line x1="610.6" y1="120.6" x2="610.6" y2="122.4" stroke="#999" stroke-width="0.8"/>
<text transform="translate(613.11,129.1) scale(1,1) rotate(-45)" font-family="Liberation Sans, sans-serif" font-weight="bold" stroke="#000" stroke-width="0.12" font-size="7" text-anchor="end">C25 dimer SE</text>
<line x1="626.4" y1="120.6" x2="626.4" y2="122.4" stroke="#999" stroke-width="0.8"/>
<text transform="translate(628.91,129.1) scale(1,1) rotate(-45)" font-family="Liberation Sans, sans-serif" font-weight="bold" stroke="#000" stroke-width="0.12" font-size="7" text-anchor="end">solanesol SE</text>
<line x1="642.2" y1="120.6" x2="642.2" y2="122.4" stroke="#999" stroke-width="0.8"/>
<text transform="translate(644.71,129.1) scale(1,1) rotate(-45)" font-family="Liberation Sans, sans-serif" font-weight="bold" stroke="#000" stroke-width="0.12" font-size="7" text-anchor="end">alcohols A SE</text>
<line x1="658" y1="120.6" x2="658" y2="122.4" stroke="#999" stroke-width="0.8"/>
<text transform="translate(660.51,129.1) scale(1,1) rotate(-45)" font-family="Liberation Sans, sans-serif" font-weight="bold" stroke="#000" stroke-width="0.12" font-size="7" text-anchor="end">squalane SE</text>
<line x1="673.8" y1="120.6" x2="673.8" y2="122.4" stroke="#999" stroke-width="0.8"/>
<text transform="translate(676.31,129.1) scale(1,1) rotate(-45)" font-family="Liberation Sans, sans-serif" font-weight="bold" stroke="#000" stroke-width="0.12" font-size="7" text-anchor="end">shark squalane SE</text>
<text transform="translate(479.1,90.9) scale(1,0.9) rotate(-90)" font-family="Liberation Sans, sans-serif" font-weight="bold" stroke="#000" stroke-width="0.12" font-size="8.2" text-anchor="middle" dominant-baseline="central">HAI Titer</text>
<text transform="translate(488.6,91.6) scale(1,0.94) rotate(-90)" font-family="Liberation Sans, sans-serif" font-weight="bold" stroke="#000" stroke-width="0.12" font-size="8.2" text-anchor="middle" dominant-baseline="central">Log<tspan font-size="6.6" dy="1.8">2</tspan></text>
<g stroke="#1d7048" stroke-width="0.8" fill="none">
<line x1="515.8" y1="85" x2="515.8" y2="92.3"/>
<line x1="513.2" y1="85" x2="518.4" y2="85" stroke-opacity="0.55"/>
<line x1="515.8" y1="110.4" x2="515.8" y2="113.4"/>
<line x1="513.2" y1="113.4" x2="518.4" y2="113.4" stroke-opacity="0.55"/>
<rect x="510.6" y="92.3" width="10.4" height="18.1"/>
<line x1="510.6" y1="102.2" x2="521" y2="102.2"/>
</g>
<circle cx="515.8" cy="85" r="1.35" fill="#1d7048"/>
<circle cx="515.8" cy="90.7" r="1.35" fill="#1d7048"/>
<circle cx="515.8" cy="96.3" r="1.35" fill="#1d7048"/>
<circle cx="511.7" cy="102.2" r="1.35" fill="#1d7048"/>
<circle cx="515.8" cy="102.2" r="1.15" fill="#fff" stroke="#1d7048" stroke-width="0.7"/>
<circle cx="520.3" cy="102.2" r="1.15" fill="#fff" stroke="#1d7048" stroke-width="0.7"/>
<circle cx="513.5" cy="113.4" r="1.15" fill="#fff" stroke="#1d7048" stroke-width="0.7"/>
<circle cx="518" cy="113.4" r="1.15" fill="#fff" stroke="#1d7048" stroke-width="0.7"/>
<g stroke="#0000ff" stroke-width="0.8" fill="none">
<line x1="531.6" y1="79.3" x2="531.6" y2="85.2"/>
<line x1="529" y1="79.3" x2="534.2" y2="79.3" stroke-opacity="0.55"/>
<line x1="529" y1="96.5" x2="534.2" y2="96.5" stroke-opacity="0.55"/>
<rect x="526.4" y="85.2" width="10.4" height="11.3"/>
<line x1="526.4" y1="90.5" x2="536.8" y2="90.5"/>
</g>
<circle cx="531.6" cy="79.3" r="1.35" fill="#0000ff"/>
<circle cx="529.5" cy="85" r="1.35" fill="#0000ff"/>
<circle cx="533.8" cy="85" r="1.35" fill="#0000ff"/>
<circle cx="529.3" cy="90.5" r="1.15" fill="#fff" stroke="#0000ff" stroke-width="0.7"/>
<circle cx="533.8" cy="90.5" r="1.35" fill="#0000ff"/>
<circle cx="527.3" cy="96.5" r="1.15" fill="#fff" stroke="#0000ff" stroke-width="0.7"/>
<circle cx="531.6" cy="96.5" r="1.15" fill="#fff" stroke="#0000ff" stroke-width="0.7"/>
<circle cx="535.9" cy="96.5" r="1.15" fill="#fff" stroke="#0000ff" stroke-width="0.7"/>
<g stroke="#ff0000" stroke-width="0.8" fill="none">
<line x1="547.4" y1="101.9" x2="547.4" y2="103.2"/>
<line x1="544.8" y1="101.9" x2="550" y2="101.9" stroke-opacity="0.55"/>
<line x1="544.8" y1="113.4" x2="550" y2="113.4" stroke-opacity="0.55"/>
<rect x="542.2" y="103.2" width="10.4" height="10.2"/>
<line x1="542.2" y1="113.4" x2="552.6" y2="113.4"/>
</g>
<circle cx="546.3" cy="101.9" r="1.35" fill="#ff0000"/>
<circle cx="548.5" cy="101.9" r="1.35" fill="#ff0000"/>
<circle cx="547.4" cy="107.7" r="1.35" fill="#ff0000"/>
<circle cx="543.4" cy="113.4" r="1.35" fill="#ff0000"/>
<circle cx="545.4" cy="113.4" r="1.35" fill="#ff0000"/>
<circle cx="547.4" cy="113.4" r="1.35" fill="#ff0000"/>
<circle cx="549.4" cy="113.4" r="1.35" fill="#ff0000"/>
<circle cx="551.4" cy="113.4" r="1.35" fill="#ff0000"/>
<g stroke="#1ec81e" stroke-width="0.8" fill="none">
<line x1="563.2" y1="79.3" x2="563.2" y2="82.3"/>
<line x1="560.6" y1="79.3" x2="565.8" y2="79.3" stroke-opacity="0.55"/>
<line x1="563.2" y1="94.5" x2="563.2" y2="96.3"/>
<line x1="560.6" y1="96.3" x2="565.8" y2="96.3" stroke-opacity="0.55"/>
<rect x="558" y="82.3" width="10.4" height="12.2"/>
<line x1="558" y1="90.7" x2="568.4" y2="90.7"/>
</g>
<circle cx="562.2" cy="79.3" r="1.35" fill="#1ec81e"/>
<circle cx="564.5" cy="79.3" r="1.35" fill="#1ec81e"/>
<circle cx="559.2" cy="90.7" r="1.35" fill="#1ec81e"/>
<circle cx="561.5" cy="90.7" r="1.15" fill="#fff" stroke="#1ec81e" stroke-width="0.7"/>
<circle cx="563.7" cy="90.7" r="1.15" fill="#fff" stroke="#1ec81e" stroke-width="0.7"/>
<circle cx="566" cy="90.7" r="1.15" fill="#fff" stroke="#1ec81e" stroke-width="0.7"/>
<circle cx="567.9" cy="90.7" r="1.35" fill="#1ec81e"/>
<circle cx="562.2" cy="96.3" r="1.35" fill="#1ec81e"/>
<circle cx="564.5" cy="96.3" r="1.15" fill="#fff" stroke="#1ec81e" stroke-width="0.7"/>
<g stroke="#b000f0" stroke-width="0.8" fill="none">
<line x1="576.4" y1="79.3" x2="581.6" y2="79.3" stroke-opacity="0.55"/>
<line x1="579" y1="94.5" x2="579" y2="96.3"/>
<line x1="576.4" y1="96.3" x2="581.6" y2="96.3" stroke-opacity="0.55"/>
<rect x="573.8" y="79.3" width="10.4" height="15.2"/>
<line x1="573.8" y1="87.6" x2="584.2" y2="87.6"/>
</g>
<circle cx="574.8" cy="79.3" r="1.15" fill="#fff" stroke="#b000f0" stroke-width="0.7"/>
<circle cx="579" cy="79.3" r="1.35" fill="#b000f0"/>
<circle cx="583.1" cy="79.3" r="1.35" fill="#b000f0"/>
<circle cx="579" cy="85" r="1.35" fill="#b000f0"/>
<circle cx="576.9" cy="90.3" r="1.15" fill="#fff" stroke="#b000f0" stroke-width="0.7"/>
<circle cx="581" cy="90.3" r="1.15" fill="#fff" stroke="#b000f0" stroke-width="0.7"/>
<circle cx="576.9" cy="96.3" r="1.35" fill="#b000f0"/>
<circle cx="581" cy="96.3" r="1.15" fill="#fff" stroke="#b000f0" stroke-width="0.7"/>
<g stroke="#ff8000" stroke-width="0.8" fill="none">
<line x1="594.8" y1="90.7" x2="594.8" y2="92.2"/>
<line x1="592.2" y1="90.7" x2="597.4" y2="90.7" stroke-opacity="0.55"/>
<line x1="594.8" y1="96.7" x2="594.8" y2="102.2"/>
<line x1="592.2" y1="102.2" x2="597.4" y2="102.2" stroke-opacity="0.55"/>
<rect x="589.6" y="92.2" width="10.4" height="4.5"/>
<line x1="589.6" y1="94" x2="600" y2="94"/>
</g>
<circle cx="594.8" cy="90.7" r="1.35" fill="#ff8000"/>
<circle cx="590.3" cy="96.3" r="1.35" fill="#ff8000"/>
<circle cx="592.5" cy="96.3" r="1.35" fill="#ff8000"/>
<circle cx="594.8" cy="96.3" r="1.35" fill="#ff8000"/>
<circle cx="597.1" cy="96.3" r="1.35" fill="#ff8000"/>
<circle cx="599.7" cy="96.3" r="1.35" fill="#ff8000"/>
<circle cx="594.8" cy="102.2" r="1.15" fill="#fff" stroke="#ff8000" stroke-width="0.7"/>
<g stroke="#000000" stroke-width="0.8" fill="none">
<line x1="608" y1="84.3" x2="613.2" y2="84.3" stroke-opacity="0.55"/>
<line x1="610.6" y1="94.6" x2="610.6" y2="102.2"/>
<line x1="608" y1="102.2" x2="613.2" y2="102.2" stroke-opacity="0.55"/>
<rect x="605.4" y="84.3" width="10.4" height="10.3"/>
<line x1="605.4" y1="86.7" x2="615.8" y2="86.7"/>
</g>
<circle cx="606.7" cy="84.3" r="1.35" fill="#000000"/>
<circle cx="609" cy="84.3" r="1.35" fill="#000000"/>
<circle cx="611.3" cy="84.3" r="1.15" fill="#fff" stroke="#000000" stroke-width="0.7"/>
<circle cx="613.1" cy="84.3" r="1.35" fill="#000000"/>
<circle cx="615" cy="84.3" r="1.35" fill="#000000"/>
<circle cx="609.3" cy="90.7" r="1.35" fill="#000000"/>
<circle cx="611.8" cy="90.7" r="1.35" fill="#000000"/>
<circle cx="610.6" cy="96.6" r="1.15" fill="#fff" stroke="#000000" stroke-width="0.7"/>
<circle cx="610.6" cy="102.2" r="1.35" fill="#000000"/>
<g stroke="#9a6a2a" stroke-width="0.8" fill="none">
<line x1="626.4" y1="68" x2="626.4" y2="71.3"/>
<line x1="623.8" y1="68" x2="629" y2="68" stroke-opacity="0.55"/>
<line x1="623.8" y1="90.8" x2="629" y2="90.8" stroke-opacity="0.55"/>
<rect x="621.2" y="71.3" width="10.4" height="19.5"/>
<line x1="621.2" y1="82.9" x2="631.6" y2="82.9"/>
</g>
<circle cx="624.5" cy="68" r="1.35" fill="#9a6a2a"/>
<circle cx="628.5" cy="68" r="1.35" fill="#9a6a2a"/>
<circle cx="624.4" cy="79.5" r="1.35" fill="#9a6a2a"/>
<circle cx="628.5" cy="79.5" r="1.15" fill="#fff" stroke="#9a6a2a" stroke-width="0.7"/>
<circle cx="626.4" cy="84.8" r="1.15" fill="#fff" stroke="#9a6a2a" stroke-width="0.7"/>
<circle cx="622" cy="90.8" r="1.35" fill="#9a6a2a"/>
<circle cx="626.4" cy="90.8" r="1.15" fill="#fff" stroke="#9a6a2a" stroke-width="0.7"/>
<circle cx="630.8" cy="90.8" r="1.15" fill="#fff" stroke="#9a6a2a" stroke-width="0.7"/>
<g stroke="#1a1a99" stroke-width="0.8" fill="none">
<line x1="642.2" y1="73.6" x2="642.2" y2="79.7"/>
<line x1="639.6" y1="73.6" x2="644.8" y2="73.6" stroke-opacity="0.55"/>
<line x1="642.2" y1="94.6" x2="642.2" y2="113.2"/>
<line x1="639.6" y1="113.2" x2="644.8" y2="113.2" stroke-opacity="0.55"/>
<rect x="637" y="79.7" width="10.4" height="14.9"/>
<line x1="637" y1="87.3" x2="647.4" y2="87.3"/>
</g>
<circle cx="642.2" cy="73.6" r="1.35" fill="#1a1a99"/>
<circle cx="640.1" cy="79.2" r="1.35" fill="#1a1a99"/>
<circle cx="644.3" cy="79.2" r="1.35" fill="#1a1a99"/>
<circle cx="642.2" cy="84.8" r="1.15" fill="#fff" stroke="#1a1a99" stroke-width="0.7"/>
<circle cx="640.1" cy="90.7" r="1.15" fill="#fff" stroke="#1a1a99" stroke-width="0.7"/>
<circle cx="644.3" cy="90.7" r="1.35" fill="#1a1a99"/>
<circle cx="642.2" cy="96.6" r="1.15" fill="#fff" stroke="#1a1a99" stroke-width="0.7"/>
<circle cx="642.2" cy="113.2" r="1.35" fill="#1a1a99"/>
<g stroke="#7a1a6e" stroke-width="0.8" fill="none">
<line x1="658" y1="90.7" x2="658" y2="98.3"/>
<line x1="655.4" y1="90.7" x2="660.6" y2="90.7" stroke-opacity="0.55"/>
<line x1="658" y1="106.2" x2="658" y2="113.5"/>
<line x1="655.4" y1="113.5" x2="660.6" y2="113.5" stroke-opacity="0.55"/>
<rect x="652.8" y="98.3" width="10.4" height="7.9"/>
<line x1="652.8" y1="101.8" x2="663.2" y2="101.8"/>
</g>
<circle cx="658" cy="90.7" r="1.35" fill="#7a1a6e"/>
<circle cx="658" cy="96.3" r="1.15" fill="#fff" stroke="#7a1a6e" stroke-width="0.7"/>
<circle cx="653.8" cy="101.8" r="1.35" fill="#7a1a6e"/>
<circle cx="656.4" cy="101.8" r="1.15" fill="#fff" stroke="#7a1a6e" stroke-width="0.7"/>
<circle cx="658" cy="101.8" r="1.35" fill="#7a1a6e"/>
<circle cx="659.6" cy="101.8" r="1.35" fill="#7a1a6e"/>
<circle cx="662" cy="101.8" r="1.35" fill="#7a1a6e"/>
<circle cx="658" cy="106.5" r="1.35" fill="#7a1a6e"/>
<circle cx="658" cy="113.5" r="1.35" fill="#7a1a6e"/>
<g stroke="#b0141e" stroke-width="0.8" fill="none">
<line x1="671.2" y1="90.7" x2="676.4" y2="90.7" stroke-opacity="0.55"/>
<line x1="673.8" y1="110" x2="673.8" y2="113.2"/>
<line x1="671.2" y1="113.2" x2="676.4" y2="113.2" stroke-opacity="0.55"/>
<rect x="668.6" y="90.7" width="10.4" height="19.3"/>
<line x1="668.6" y1="102" x2="679" y2="102"/>
</g>
<circle cx="669.6" cy="90.7" r="1.35" fill="#b0141e"/>
<circle cx="673.8" cy="90.7" r="1.35" fill="#b0141e"/>
<circle cx="678.1" cy="90.7" r="1.35" fill="#b0141e"/>
<circle cx="669.6" cy="102" r="1.35" fill="#b0141e"/>
<circle cx="673.8" cy="102" r="1.15" fill="#fff" stroke="#b0141e" stroke-width="0.7"/>
<circle cx="678.1" cy="102" r="1.15" fill="#fff" stroke="#b0141e" stroke-width="0.7"/>
<circle cx="671.9" cy="113.2" r="1.15" fill="#fff" stroke="#b0141e" stroke-width="0.7"/>
<circle cx="675.4" cy="113.2" r="1.15" fill="#fff" stroke="#b0141e" stroke-width="0.7"/>
<path d="M515.8,57.5 V49.4 H626.4 V65" stroke="#555" stroke-width="0.9" fill="none"/>
<circle cx="567.7" cy="45.5" r="1.15" fill="#1a1a1a"/>
<circle cx="571.1" cy="45.5" r="1.15" fill="#1a1a1a"/>
<circle cx="574.5" cy="45.5" r="1.15" fill="#1a1a1a"/>
<path d="M515.8,82 V61.4 H579 V75.6" stroke="#555" stroke-width="0.9" fill="none"/>
<circle cx="547.4" cy="57.5" r="1.15" fill="#1a1a1a"/>
<text x="-0.6" y="221.3" font-family="Liberation Sans, sans-serif" font-weight="bold" stroke="#000" stroke-width="0.12" font-size="10">d (Day 42)</text>
<line x1="31.6" y1="282" x2="31.6" y2="338.2" stroke="#555" stroke-width="1"/>
<line x1="29.8" y1="338.2" x2="31.6" y2="338.2" stroke="#555" stroke-width="0.9"/>
<text transform="translate(29.6,338.2) scale(1,1)" y="2.55" font-family="Liberation Sans, sans-serif" font-weight="bold" stroke="#000" stroke-width="0.12" font-size="7.3" text-anchor="end">2</text>
<line x1="29.8" y1="328.83" x2="31.6" y2="328.83" stroke="#555" stroke-width="0.9"/>
<text transform="translate(29.6,328.83) scale(1,1)" y="2.55" font-family="Liberation Sans, sans-serif" font-weight="bold" stroke="#000" stroke-width="0.12" font-size="7.3" text-anchor="end">3</text>
<line x1="29.8" y1="319.46" x2="31.6" y2="319.46" stroke="#555" stroke-width="0.9"/>
<text transform="translate(29.6,319.46) scale(1,1)" y="2.55" font-family="Liberation Sans, sans-serif" font-weight="bold" stroke="#000" stroke-width="0.12" font-size="7.3" text-anchor="end">4</text>
<line x1="29.8" y1="310.09" x2="31.6" y2="310.09" stroke="#555" stroke-width="0.9"/>
<text transform="translate(29.6,310.09) scale(1,1)" y="2.55" font-family="Liberation Sans, sans-serif" font-weight="bold" stroke="#000" stroke-width="0.12" font-size="7.3" text-anchor="end">5</text>
<line x1="29.8" y1="300.72" x2="31.6" y2="300.72" stroke="#555" stroke-width="0.9"/>
<text transform="translate(29.6,300.72) scale(1,1)" y="2.55" font-family="Liberation Sans, sans-serif" font-weight="bold" stroke="#000" stroke-width="0.12" font-size="7.3" text-anchor="end">6</text>
<line x1="29.8" y1="291.35" x2="31.6" y2="291.35" stroke="#555" stroke-width="0.9"/>
<text transform="translate(29.6,291.35) scale(1,1)" y="2.55" font-family="Liberation Sans, sans-serif" font-weight="bold" stroke="#000" stroke-width="0.12" font-size="7.3" text-anchor="end">7</text>
<line x1="29.8" y1="281.98" x2="31.6" y2="281.98" stroke="#555" stroke-width="0.9"/>
<text transform="translate(29.6,281.98) scale(1,1)" y="2.55" font-family="Liberation Sans, sans-serif" font-weight="bold" stroke="#000" stroke-width="0.12" font-size="7.3" text-anchor="end">8</text>
<line x1="31.6" y1="338.2" x2="211" y2="338.2" stroke="#555" stroke-width="1"/>
<line x1="41.4" y1="338.2" x2="41.4" y2="340" stroke="#999" stroke-width="0.8"/>
<text transform="translate(43.7,346) scale(1,1) rotate(-45)" font-family="Liberation Sans, sans-serif" font-weight="bold" stroke="#000" stroke-width="0.12" font-size="7" text-anchor="end">None</text>
<line x1="61.35" y1="338.2" x2="61.35" y2="340" stroke="#999" stroke-width="0.8"/>
<text transform="translate(63.65,346) scale(1,1) rotate(-45)" font-family="Liberation Sans, sans-serif" font-weight="bold" stroke="#000" stroke-width="0.12" font-size="7" text-anchor="end">shark squalene SE</text>
<line x1="81.3" y1="338.2" x2="81.3" y2="340" stroke="#999" stroke-width="0.8"/>
<text transform="translate(83.6,346) scale(1,1) rotate(-45)" font-family="Liberation Sans, sans-serif" font-weight="bold" stroke="#000" stroke-width="0.12" font-size="7" text-anchor="end">long-chain triglyceride SE</text>
<line x1="101.25" y1="338.2" x2="101.25" y2="340" stroke="#999" stroke-width="0.8"/>
<text transform="translate(103.55,346) scale(1,1) rotate(-45)" font-family="Liberation Sans, sans-serif" font-weight="bold" stroke="#000" stroke-width="0.12" font-size="7" text-anchor="end">difarnesyl ether SE</text>
<line x1="121.2" y1="338.2" x2="121.2" y2="340" stroke="#999" stroke-width="0.8"/>
<text transform="translate(123.5,346) scale(1,1) rotate(-45)" font-family="Liberation Sans, sans-serif" font-weight="bold" stroke="#000" stroke-width="0.12" font-size="7" text-anchor="end">alcohols C SE</text>
<line x1="141.15" y1="338.2" x2="141.15" y2="340" stroke="#999" stroke-width="0.8"/>
<text transform="translate(143.45,346) scale(1,1) rotate(-45)" font-family="Liberation Sans, sans-serif" font-weight="bold" stroke="#000" stroke-width="0.12" font-size="7" text-anchor="end">aldehydes A SE</text>
<line x1="161.1" y1="338.2" x2="161.1" y2="340" stroke="#999" stroke-width="0.8"/>
<text transform="translate(163.4,346) scale(1,1) rotate(-45)" font-family="Liberation Sans, sans-serif" font-weight="bold" stroke="#000" stroke-width="0.12" font-size="7" text-anchor="end">acids A SE</text>
<line x1="181.05" y1="338.2" x2="181.05" y2="340" stroke="#999" stroke-width="0.8"/>
<text transform="translate(183.35,346) scale(1,1) rotate(-45)" font-family="Liberation Sans, sans-serif" font-weight="bold" stroke="#000" stroke-width="0.12" font-size="7" text-anchor="end">esters A SE</text>
<line x1="201" y1="338.2" x2="201" y2="340" stroke="#999" stroke-width="0.8"/>
<text transform="translate(203.3,346) scale(1,1) rotate(-45)" font-family="Liberation Sans, sans-serif" font-weight="bold" stroke="#000" stroke-width="0.12" font-size="7" text-anchor="end">alcohols A SE</text>
<text transform="translate(8.8,308.6) scale(1,1) rotate(-90)" font-family="Liberation Sans, sans-serif" font-weight="bold" stroke="#000" stroke-width="0.12" font-size="7.9" text-anchor="middle" dominant-baseline="central">IgGT Endpoint Titers</text>
<text transform="translate(17.7,307.4) scale(1,0.92) rotate(-90)" font-family="Liberation Sans, sans-serif" font-weight="bold" stroke="#000" stroke-width="0.12" font-size="8.2" text-anchor="middle" dominant-baseline="central">(Log<tspan font-size="6.6" dy="1.7">10</tspan><tspan dy="-1.7">)</tspan></text>
<g stroke="#1d7048" stroke-width="0.8" fill="none">
<line x1="38.1" y1="306.8" x2="44.7" y2="306.8" stroke-opacity="0.55"/>
<line x1="41.4" y1="316.3" x2="41.4" y2="318.4"/>
<line x1="38.1" y1="318.4" x2="44.7" y2="318.4" stroke-opacity="0.55"/>
<rect x="34.8" y="306.8" width="13.2" height="9.5"/>
<line x1="34.8" y1="313.4" x2="48" y2="313.4"/>
</g>
<circle cx="35.8" cy="306.8" r="1.35" fill="#1d7048"/>
<circle cx="47.2" cy="306.8" r="1.35" fill="#1d7048"/>
<circle cx="41.7" cy="308.7" r="1.35" fill="#1d7048"/>
<circle cx="35.8" cy="311.9" r="1.35" fill="#1d7048"/>
<circle cx="47.2" cy="313.4" r="1.15" fill="#fff" stroke="#1d7048" stroke-width="0.7"/>
<circle cx="41.7" cy="315.3" r="1.15" fill="#fff" stroke="#1d7048" stroke-width="0.7"/>
<circle cx="35.8" cy="318.4" r="1.15" fill="#fff" stroke="#1d7048" stroke-width="0.7"/>
<circle cx="47.2" cy="317.6" r="1.15" fill="#fff" stroke="#1d7048" stroke-width="0.7"/>
<g stroke="#0000ff" stroke-width="0.8" fill="none">
<line x1="61.35" y1="302.1" x2="61.35" y2="305.1"/>
<line x1="58.05" y1="302.1" x2="64.65" y2="302.1" stroke-opacity="0.55"/>
<line x1="61.35" y1="311.2" x2="61.35" y2="312.9"/>
<line x1="58.05" y1="312.9" x2="64.65" y2="312.9" stroke-opacity="0.55"/>
<rect x="54.75" y="305.1" width="13.2" height="6.1"/>
<line x1="54.75" y1="308.7" x2="67.95" y2="308.7"/>
</g>
<circle cx="61.35" cy="302.1" r="1.35" fill="#0000ff"/>
<circle cx="56.15" cy="304.9" r="1.35" fill="#0000ff"/>
<circle cx="67.15" cy="304.9" r="1.35" fill="#0000ff"/>
<circle cx="56.15" cy="308.3" r="1.15" fill="#fff" stroke="#0000ff" stroke-width="0.7"/>
<circle cx="61.35" cy="308.3" r="1.15" fill="#fff" stroke="#0000ff" stroke-width="0.7"/>
<circle cx="67.15" cy="308.7" r="1.35" fill="#0000ff"/>
<circle cx="59.05" cy="312.9" r="1.15" fill="#fff" stroke="#0000ff" stroke-width="0.7"/>
<circle cx="64.15" cy="312.5" r="1.15" fill="#fff" stroke="#0000ff" stroke-width="0.7"/>
<g stroke="#ff0000" stroke-width="0.8" fill="none">
<line x1="81.3" y1="307" x2="81.3" y2="309.5"/>
<line x1="78" y1="307" x2="84.6" y2="307" stroke-opacity="0.55"/>
<line x1="81.3" y1="315.9" x2="81.3" y2="316.7"/>
<line x1="78" y1="316.7" x2="84.6" y2="316.7" stroke-opacity="0.55"/>
<rect x="74.7" y="309.5" width="13.2" height="6.4"/>
<line x1="74.7" y1="312.9" x2="87.9" y2="312.9"/>
</g>
<circle cx="81.3" cy="307" r="1.35" fill="#ff0000"/>
<circle cx="76" cy="310.8" r="1.35" fill="#ff0000"/>
<circle cx="87" cy="310.8" r="1.35" fill="#ff0000"/>
<circle cx="84.4" cy="313.4" r="1.35" fill="#ff0000"/>
<circle cx="78.1" cy="313.8" r="1.15" fill="#fff" stroke="#ff0000" stroke-width="0.7"/>
<circle cx="78.5" cy="316.7" r="1.15" fill="#fff" stroke="#ff0000" stroke-width="0.7"/>
<circle cx="83.6" cy="316.7" r="1.15" fill="#fff" stroke="#ff0000" stroke-width="0.7"/>
<g stroke="#1ec81e" stroke-width="0.8" fill="none">
<line x1="101.25" y1="303.4" x2="101.25" y2="305.3"/>
<line x1="97.95" y1="303.4" x2="104.55" y2="303.4" stroke-opacity="0.55"/>
<line x1="101.25" y1="315.2" x2="101.25" y2="319.4"/>
<line x1="97.95" y1="319.4" x2="104.55" y2="319.4" stroke-opacity="0.55"/>
<rect x="94.65" y="305.3" width="13.2" height="9.9"/>
<line x1="94.65" y1="307.2" x2="107.85" y2="307.2"/>
</g>
<circle cx="95.65" cy="303.4" r="1.35" fill="#1ec81e"/>
<circle cx="106.65" cy="304.6" r="1.35" fill="#1ec81e"/>
<circle cx="95.65" cy="305.1" r="1.35" fill="#1ec81e"/>
<circle cx="101.25" cy="308.4" r="1.15" fill="#fff" stroke="#1ec81e" stroke-width="0.7"/>
<circle cx="101.25" cy="312.9" r="1.15" fill="#fff" stroke="#1ec81e" stroke-width="0.7"/>
<circle cx="101.25" cy="319.4" r="1.35" fill="#1ec81e"/>
<g stroke="#b000f0" stroke-width="0.8" fill="none">
<line x1="117.9" y1="301.7" x2="124.5" y2="301.7" stroke-opacity="0.55"/>
<line x1="117.9" y1="307.2" x2="124.5" y2="307.2" stroke-opacity="0.55"/>
<rect x="114.6" y="301.9" width="13.2" height="5.3"/>
<line x1="114.6" y1="304.6" x2="127.8" y2="304.6"/>
</g>
<circle cx="115.5" cy="302.1" r="1.35" fill="#b000f0"/>
<circle cx="119.3" cy="301.7" r="1.35" fill="#b000f0"/>
<circle cx="126.5" cy="302.5" r="1.35" fill="#b000f0"/>
<circle cx="115.5" cy="305.8" r="1.35" fill="#b000f0"/>
<circle cx="126.5" cy="306.2" r="1.35" fill="#b000f0"/>
<circle cx="115.5" cy="308" r="1.15" fill="#fff" stroke="#b000f0" stroke-width="0.7"/>
<circle cx="123.2" cy="307.5" r="1.35" fill="#b000f0"/>
<g stroke="#ff8000" stroke-width="0.8" fill="none">
<line x1="141.15" y1="297.9" x2="141.15" y2="300.2"/>
<line x1="137.85" y1="297.9" x2="144.45" y2="297.9" stroke-opacity="0.55"/>
<line x1="141.15" y1="310.6" x2="141.15" y2="317.8"/>
<line x1="137.85" y1="317.8" x2="144.45" y2="317.8" stroke-opacity="0.55"/>
<rect x="134.55" y="300.2" width="13.2" height="10.4"/>
<line x1="134.55" y1="307.6" x2="147.75" y2="307.6"/>
</g>
<circle cx="138.95" cy="297.9" r="1.35" fill="#ff8000"/>
<circle cx="143.65" cy="299.5" r="1.35" fill="#ff8000"/>
<circle cx="141.15" cy="303.8" r="1.35" fill="#ff8000"/>
<circle cx="137.75" cy="307.6" r="1.15" fill="#fff" stroke="#ff8000" stroke-width="0.7"/>
<circle cx="143.65" cy="307.6" r="1.15" fill="#fff" stroke="#ff8000" stroke-width="0.7"/>
<circle cx="141.15" cy="310.6" r="1.35" fill="#ff8000"/>
<circle cx="141.15" cy="317.8" r="1.35" fill="#ff8000"/>
<g stroke="#000000" stroke-width="0.8" fill="none">
<line x1="161.1" y1="293" x2="161.1" y2="294.8"/>
<line x1="157.8" y1="293" x2="164.4" y2="293" stroke-opacity="0.55"/>
<line x1="161.1" y1="305.7" x2="161.1" y2="306.6"/>
<line x1="157.8" y1="306.6" x2="164.4" y2="306.6" stroke-opacity="0.55"/>
<rect x="154.5" y="294.8" width="13.2" height="10.9"/>
<line x1="154.5" y1="299.6" x2="167.7" y2="299.6"/>
</g>
<circle cx="155.6" cy="293" r="1.35" fill="#000000"/>
<circle cx="161.1" cy="294.3" r="1.35" fill="#000000"/>
<circle cx="155.6" cy="295.5" r="1.35" fill="#000000"/>
<circle cx="166.5" cy="296.1" r="1.35" fill="#000000"/>
<circle cx="155.6" cy="302.6" r="1.15" fill="#fff" stroke="#000000" stroke-width="0.7"/>
<circle cx="161.1" cy="304" r="1.35" fill="#000000"/>
<circle cx="166.5" cy="304.4" r="1.15" fill="#fff" stroke="#000000" stroke-width="0.7"/>
<circle cx="155.6" cy="306.6" r="1.15" fill="#fff" stroke="#000000" stroke-width="0.7"/>
<g stroke="#9a6a2a" stroke-width="0.8" fill="none">
<line x1="181.05" y1="306" x2="181.05" y2="307.2"/>
<line x1="177.75" y1="306" x2="184.35" y2="306" stroke-opacity="0.55"/>
<line x1="181.05" y1="313" x2="181.05" y2="313.3"/>
<line x1="177.75" y1="313.3" x2="184.35" y2="313.3" stroke-opacity="0.55"/>
<rect x="174.45" y="307.2" width="13.2" height="5.8"/>
<line x1="174.45" y1="311" x2="187.65" y2="311"/>
</g>
<circle cx="178.05" cy="306.3" r="1.35" fill="#9a6a2a"/>
<circle cx="183.65" cy="306" r="1.35" fill="#9a6a2a"/>
<circle cx="175.35" cy="309.2" r="1.15" fill="#fff" stroke="#9a6a2a" stroke-width="0.7"/>
<circle cx="181.05" cy="309.5" r="1.35" fill="#9a6a2a"/>
<circle cx="186.75" cy="309.2" r="1.15" fill="#fff" stroke="#9a6a2a" stroke-width="0.7"/>
<circle cx="175.35" cy="313.3" r="1.15" fill="#fff" stroke="#9a6a2a" stroke-width="0.7"/>
<circle cx="181.05" cy="312.1" r="1.35" fill="#9a6a2a"/>
<circle cx="186.75" cy="312.7" r="1.15" fill="#fff" stroke="#9a6a2a" stroke-width="0.7"/>
<g stroke="#1a1a99" stroke-width="0.8" fill="none">
<line x1="201" y1="297.4" x2="201" y2="301.1"/>
<line x1="197.7" y1="297.4" x2="204.3" y2="297.4" stroke-opacity="0.55"/>
<line x1="197.7" y1="311.4" x2="204.3" y2="311.4" stroke-opacity="0.55"/>
<rect x="194.4" y="301.1" width="13.2" height="10.3"/>
<line x1="194.4" y1="308.3" x2="207.6" y2="308.3"/>
</g>
<circle cx="201" cy="297.4" r="1.35" fill="#1a1a99"/>
<circle cx="206.4" cy="297.4" r="1.35" fill="#1a1a99"/>
<circle cx="201" cy="307.2" r="1.35" fill="#1a1a99"/>
<circle cx="206.4" cy="306.6" r="1.35" fill="#1a1a99"/>
<circle cx="195.1" cy="309.2" r="1.15" fill="#fff" stroke="#1a1a99" stroke-width="0.7"/>
<circle cx="206.4" cy="309.2" r="1.15" fill="#fff" stroke="#1a1a99" stroke-width="0.7"/>
<circle cx="198.1" cy="312.3" r="1.15" fill="#fff" stroke="#1a1a99" stroke-width="0.7"/>
<circle cx="203.4" cy="312.3" r="1.15" fill="#fff" stroke="#1a1a99" stroke-width="0.7"/>
<path d="M41.4,270.5 V262.5 H161.1 V271" stroke="#555" stroke-width="0.9" fill="none"/>
<circle cx="96.15" cy="258.6" r="1.15" fill="#1a1a1a"/>
<circle cx="99.55" cy="258.6" r="1.15" fill="#1a1a1a"/>
<circle cx="102.95" cy="258.6" r="1.15" fill="#1a1a1a"/>
<circle cx="106.35" cy="258.6" r="1.15" fill="#1a1a1a"/>
<path d="M61.35,299 V274.6 H161.1 V289" stroke="#555" stroke-width="0.9" fill="none"/>
<circle cx="109.52" cy="270.7" r="1.15" fill="#1a1a1a"/>
<circle cx="112.92" cy="270.7" r="1.15" fill="#1a1a1a"/>
<path d="M41.4,303.5 V286.6 H121.2 V299" stroke="#555" stroke-width="0.9" fill="none"/>
<circle cx="81.3" cy="282.7" r="1.15" fill="#1a1a1a"/>
<text x="233.8" y="221.3" font-family="Liberation Sans, sans-serif" font-weight="bold" stroke="#000" stroke-width="0.12" font-size="10">e (Day 42)</text>
<line x1="269.6" y1="282.2" x2="269.6" y2="338.2" stroke="#555" stroke-width="1"/>
<line x1="267.8" y1="338.2" x2="269.6" y2="338.2" stroke="#555" stroke-width="0.9"/>
<text transform="translate(267.6,338.2) scale(1,1)" y="2.55" font-family="Liberation Sans, sans-serif" font-weight="bold" stroke="#000" stroke-width="0.12" font-size="7.3" text-anchor="end">0.0</text>
<line x1="267.8" y1="330.2" x2="269.6" y2="330.2" stroke="#555" stroke-width="0.9"/>
<text transform="translate(267.6,330.2) scale(1,1)" y="2.55" font-family="Liberation Sans, sans-serif" font-weight="bold" stroke="#000" stroke-width="0.12" font-size="7.3" text-anchor="end">0.5</text>
<line x1="267.8" y1="322.2" x2="269.6" y2="322.2" stroke="#555" stroke-width="0.9"/>
<text transform="translate(267.6,322.2) scale(1,1)" y="2.55" font-family="Liberation Sans, sans-serif" font-weight="bold" stroke="#000" stroke-width="0.12" font-size="7.3" text-anchor="end">1.0</text>
<line x1="267.8" y1="314.2" x2="269.6" y2="314.2" stroke="#555" stroke-width="0.9"/>
<text transform="translate(267.6,314.2) scale(1,1)" y="2.55" font-family="Liberation Sans, sans-serif" font-weight="bold" stroke="#000" stroke-width="0.12" font-size="7.3" text-anchor="end">1.5</text>
<line x1="267.8" y1="306.2" x2="269.6" y2="306.2" stroke="#555" stroke-width="0.9"/>
<text transform="translate(267.6,306.2) scale(1,1)" y="2.55" font-family="Liberation Sans, sans-serif" font-weight="bold" stroke="#000" stroke-width="0.12" font-size="7.3" text-anchor="end">2.0</text>
<line x1="267.8" y1="298.2" x2="269.6" y2="298.2" stroke="#555" stroke-width="0.9"/>
<text transform="translate(267.6,298.2) scale(1,1)" y="2.55" font-family="Liberation Sans, sans-serif" font-weight="bold" stroke="#000" stroke-width="0.12" font-size="7.3" text-anchor="end">2.5</text>
<line x1="267.8" y1="290.2" x2="269.6" y2="290.2" stroke="#555" stroke-width="0.9"/>
<text transform="translate(267.6,290.2) scale(1,1)" y="2.55" font-family="Liberation Sans, sans-serif" font-weight="bold" stroke="#000" stroke-width="0.12" font-size="7.3" text-anchor="end">3.0</text>
<line x1="267.8" y1="282.2" x2="269.6" y2="282.2" stroke="#555" stroke-width="0.9"/>
<text transform="translate(267.6,282.2) scale(1,1)" y="2.55" font-family="Liberation Sans, sans-serif" font-weight="bold" stroke="#000" stroke-width="0.12" font-size="7.3" text-anchor="end">3.5</text>
<line x1="269.6" y1="338.2" x2="449.5" y2="338.2" stroke="#555" stroke-width="1"/>
<line x1="282.5" y1="338.2" x2="282.5" y2="340" stroke="#999" stroke-width="0.8"/>
<text transform="translate(284.8,346) scale(1,1) rotate(-45)" font-family="Liberation Sans, sans-serif" font-weight="bold" stroke="#000" stroke-width="0.12" font-size="7" text-anchor="end">None</text>
<line x1="301.75" y1="338.2" x2="301.75" y2="340" stroke="#999" stroke-width="0.8"/>
<text transform="translate(304.05,346) scale(1,1) rotate(-45)" font-family="Liberation Sans, sans-serif" font-weight="bold" stroke="#000" stroke-width="0.12" font-size="7" text-anchor="end">shark squalene SE</text>
<line x1="321" y1="338.2" x2="321" y2="340" stroke="#999" stroke-width="0.8"/>
<text transform="translate(323.3,346) scale(1,1) rotate(-45)" font-family="Liberation Sans, sans-serif" font-weight="bold" stroke="#000" stroke-width="0.12" font-size="7" text-anchor="end">long-chain triglyceride SE</text>
<line x1="340.25" y1="338.2" x2="340.25" y2="340" stroke="#999" stroke-width="0.8"/>
<text transform="translate(342.55,346) scale(1,1) rotate(-45)" font-family="Liberation Sans, sans-serif" font-weight="bold" stroke="#000" stroke-width="0.12" font-size="7" text-anchor="end">difarnesyl ether SE</text>
<line x1="359.5" y1="338.2" x2="359.5" y2="340" stroke="#999" stroke-width="0.8"/>
<text transform="translate(361.8,346) scale(1,1) rotate(-45)" font-family="Liberation Sans, sans-serif" font-weight="bold" stroke="#000" stroke-width="0.12" font-size="7" text-anchor="end">alcohols C SE</text>
<line x1="378.75" y1="338.2" x2="378.75" y2="340" stroke="#999" stroke-width="0.8"/>
<text transform="translate(381.05,346) scale(1,1) rotate(-45)" font-family="Liberation Sans, sans-serif" font-weight="bold" stroke="#000" stroke-width="0.12" font-size="7" text-anchor="end">aldehydes A SE</text>
<line x1="398" y1="338.2" x2="398" y2="340" stroke="#999" stroke-width="0.8"/>
<text transform="translate(400.3,346) scale(1,1) rotate(-45)" font-family="Liberation Sans, sans-serif" font-weight="bold" stroke="#000" stroke-width="0.12" font-size="7" text-anchor="end">acids A SE</text>
<line x1="417.25" y1="338.2" x2="417.25" y2="340" stroke="#999" stroke-width="0.8"/>
<text transform="translate(419.55,346) scale(1,1) rotate(-45)" font-family="Liberation Sans, sans-serif" font-weight="bold" stroke="#000" stroke-width="0.12" font-size="7" text-anchor="end">esters A SE</text>
<line x1="436.5" y1="338.2" x2="436.5" y2="340" stroke="#999" stroke-width="0.8"/>
<text transform="translate(438.8,346) scale(1,1) rotate(-45)" font-family="Liberation Sans, sans-serif" font-weight="bold" stroke="#000" stroke-width="0.12" font-size="7" text-anchor="end">alcohols A SE</text>
<text transform="translate(240.9,308.9) scale(1,1) rotate(-90)" font-family="Liberation Sans, sans-serif" font-weight="bold" stroke="#000" stroke-width="0.12" font-size="7.75" text-anchor="middle" dominant-baseline="central">Bone Marrow Plasma Cells</text>
<text transform="translate(250.6,308.9) scale(1,1) rotate(-90)" font-family="Liberation Sans, sans-serif" font-weight="bold" stroke="#000" stroke-width="0.12" font-size="7.6" text-anchor="middle" dominant-baseline="central">(Log<tspan font-size="5.8" dy="1.5">10</tspan><tspan dy="-1.5"> spots/million cells)</tspan></text>
<g stroke="#1d7048" stroke-width="0.8" fill="none">
<line x1="282.5" y1="307.9" x2="282.5" y2="314.2"/>
<line x1="279.3" y1="307.9" x2="285.7" y2="307.9" stroke-opacity="0.55"/>
<line x1="282.5" y1="321.4" x2="282.5" y2="332"/>
<line x1="279.3" y1="332" x2="285.7" y2="332" stroke-opacity="0.55"/>
<rect x="276.1" y="314.2" width="12.8" height="7.2"/>
<line x1="276.1" y1="314.8" x2="288.9" y2="314.8"/>
</g>
<circle cx="282.5" cy="307.9" r="1.35" fill="#1d7048"/>
<circle cx="282.5" cy="313.8" r="1.35" fill="#1d7048"/>
<circle cx="277.2" cy="314.5" r="1.35" fill="#1d7048"/>
<circle cx="288.1" cy="315.1" r="1.35" fill="#1d7048"/>
<circle cx="282.5" cy="316.5" r="1.15" fill="#fff" stroke="#1d7048" stroke-width="0.7"/>
<circle cx="282.5" cy="321.8" r="1.35" fill="#1d7048"/>
<circle cx="282.5" cy="332" r="1.35" fill="#1d7048"/>
<g stroke="#0000ff" stroke-width="0.8" fill="none">
<line x1="301.75" y1="302.1" x2="301.75" y2="303.2"/>
<line x1="298.55" y1="302.1" x2="304.95" y2="302.1" stroke-opacity="0.55"/>
<line x1="298.55" y1="308.7" x2="304.95" y2="308.7" stroke-opacity="0.55"/>
<rect x="295.35" y="303.2" width="12.8" height="5.5"/>
<line x1="295.35" y1="305.7" x2="308.15" y2="305.7"/>
</g>
<circle cx="299.75" cy="302.1" r="1.35" fill="#0000ff"/>
<circle cx="303.35" cy="302.1" r="1.35" fill="#0000ff"/>
<circle cx="296.45" cy="304" r="1.35" fill="#0000ff"/>
<circle cx="307.45" cy="304" r="1.15" fill="#fff" stroke="#0000ff" stroke-width="0.7"/>
<circle cx="296.45" cy="306.6" r="1.15" fill="#fff" stroke="#0000ff" stroke-width="0.7"/>
<circle cx="307.45" cy="308.7" r="1.15" fill="#fff" stroke="#0000ff" stroke-width="0.7"/>
<circle cx="296.45" cy="309.1" r="1.15" fill="#fff" stroke="#0000ff" stroke-width="0.7"/>
<circle cx="303.35" cy="308.7" r="1.35" fill="#0000ff"/>
<g stroke="#ff0000" stroke-width="0.8" fill="none">
<line x1="317.8" y1="305.5" x2="324.2" y2="305.5" stroke-opacity="0.55"/>
<line x1="321" y1="313.6" x2="321" y2="318.4"/>
<line x1="317.8" y1="318.4" x2="324.2" y2="318.4" stroke-opacity="0.55"/>
<rect x="314.6" y="305.7" width="12.8" height="7.9"/>
<line x1="314.6" y1="307.5" x2="327.4" y2="307.5"/>
</g>
<circle cx="315.2" cy="306.2" r="1.35" fill="#ff0000"/>
<circle cx="318.2" cy="306" r="1.15" fill="#fff" stroke="#ff0000" stroke-width="0.7"/>
<circle cx="321" cy="305.5" r="1.35" fill="#ff0000"/>
<circle cx="323" cy="305" r="1.15" fill="#fff" stroke="#ff0000" stroke-width="0.7"/>
<circle cx="326.7" cy="306.6" r="1.35" fill="#ff0000"/>
<circle cx="322.9" cy="307.4" r="1.35" fill="#ff0000"/>
<circle cx="321" cy="311.4" r="1.15" fill="#fff" stroke="#ff0000" stroke-width="0.7"/>
<circle cx="321" cy="315.1" r="1.35" fill="#ff0000"/>
<circle cx="321" cy="318.4" r="1.35" fill="#ff0000"/>
<g stroke="#1ec81e" stroke-width="0.8" fill="none">
<line x1="340.25" y1="299.7" x2="340.25" y2="303.2"/>
<line x1="337.05" y1="299.7" x2="343.45" y2="299.7" stroke-opacity="0.55"/>
<line x1="340.25" y1="321.9" x2="340.25" y2="324.4"/>
<line x1="337.05" y1="324.4" x2="343.45" y2="324.4" stroke-opacity="0.55"/>
<rect x="333.85" y="303.2" width="12.8" height="18.7"/>
<line x1="333.85" y1="314.4" x2="346.65" y2="314.4"/>
</g>
<circle cx="340.25" cy="299.7" r="1.35" fill="#1ec81e"/>
<circle cx="340.25" cy="312.1" r="1.15" fill="#fff" stroke="#1ec81e" stroke-width="0.7"/>
<circle cx="340.25" cy="316.4" r="1.15" fill="#fff" stroke="#1ec81e" stroke-width="0.7"/>
<circle cx="340.25" cy="324.4" r="1.35" fill="#1ec81e"/>
<g stroke="#b000f0" stroke-width="0.8" fill="none">
<line x1="359.5" y1="292.9" x2="359.5" y2="298.3"/>
<line x1="356.3" y1="292.9" x2="362.7" y2="292.9" stroke-opacity="0.55"/>
<line x1="359.5" y1="309.6" x2="359.5" y2="315.5"/>
<line x1="356.3" y1="315.5" x2="362.7" y2="315.5" stroke-opacity="0.55"/>
<rect x="353.1" y="298.3" width="12.8" height="11.3"/>
<line x1="353.1" y1="301.4" x2="365.9" y2="301.4"/>
</g>
<circle cx="359.5" cy="292.9" r="1.35" fill="#b000f0"/>
<circle cx="359.5" cy="298.2" r="1.35" fill="#b000f0"/>
<circle cx="357.1" cy="300.7" r="1.15" fill="#fff" stroke="#b000f0" stroke-width="0.7"/>
<circle cx="361.8" cy="301.1" r="1.15" fill="#fff" stroke="#b000f0" stroke-width="0.7"/>
<circle cx="357.1" cy="307.9" r="1.35" fill="#b000f0"/>
<circle cx="361.8" cy="309.6" r="1.15" fill="#fff" stroke="#b000f0" stroke-width="0.7"/>
<circle cx="359.5" cy="315.5" r="1.35" fill="#b000f0"/>
<g stroke="#ff8000" stroke-width="0.8" fill="none">
<line x1="378.75" y1="299.9" x2="378.75" y2="300.3"/>
<line x1="375.55" y1="299.9" x2="381.95" y2="299.9" stroke-opacity="0.55"/>
<line x1="378.75" y1="315.1" x2="378.75" y2="321"/>
<line x1="375.55" y1="321" x2="381.95" y2="321" stroke-opacity="0.55"/>
<rect x="372.35" y="300.3" width="12.8" height="14.8"/>
<line x1="372.35" y1="307.6" x2="385.15" y2="307.6"/>
</g>
<circle cx="378.75" cy="299.9" r="1.35" fill="#ff8000"/>
<circle cx="384.05" cy="298.2" r="1.35" fill="#ff8000"/>
<circle cx="378.75" cy="304.8" r="1.35" fill="#ff8000"/>
<circle cx="373.45" cy="307.3" r="1.15" fill="#fff" stroke="#ff8000" stroke-width="0.7"/>
<circle cx="384.15" cy="307.3" r="1.15" fill="#fff" stroke="#ff8000" stroke-width="0.7"/>
<circle cx="378.75" cy="315.1" r="1.35" fill="#ff8000"/>
<circle cx="378.75" cy="321" r="1.35" fill="#ff8000"/>
<g stroke="#000000" stroke-width="0.8" fill="none">
<line x1="398" y1="283.8" x2="398" y2="286.4"/>
<line x1="394.8" y1="283.8" x2="401.2" y2="283.8" stroke-opacity="0.55"/>
<line x1="398" y1="301.6" x2="398" y2="306.2"/>
<line x1="394.8" y1="306.2" x2="401.2" y2="306.2" stroke-opacity="0.55"/>
<rect x="391.6" y="286.4" width="12.8" height="15.2"/>
<line x1="391.6" y1="295.1" x2="404.4" y2="295.1"/>
</g>
<circle cx="392.8" cy="283.4" r="1.35" fill="#000000"/>
<circle cx="398" cy="285.1" r="1.35" fill="#000000"/>
<circle cx="395.3" cy="288.5" r="1.35" fill="#000000"/>
<circle cx="400.8" cy="289.3" r="1.35" fill="#000000"/>
<circle cx="392.3" cy="300.3" r="1.15" fill="#fff" stroke="#000000" stroke-width="0.7"/>
<circle cx="398" cy="302.4" r="1.15" fill="#fff" stroke="#000000" stroke-width="0.7"/>
<circle cx="403.3" cy="301" r="1.15" fill="#fff" stroke="#000000" stroke-width="0.7"/>
<circle cx="398" cy="306.2" r="1.35" fill="#000000"/>
<g stroke="#9a6a2a" stroke-width="0.8" fill="none">
<line x1="417.25" y1="312" x2="417.25" y2="313.2"/>
<line x1="414.05" y1="312" x2="420.45" y2="312" stroke-opacity="0.55"/>
<line x1="417.25" y1="320.6" x2="417.25" y2="321.5"/>
<line x1="414.05" y1="321.5" x2="420.45" y2="321.5" stroke-opacity="0.55"/>
<rect x="410.85" y="313.2" width="12.8" height="7.4"/>
<line x1="410.85" y1="318.1" x2="423.65" y2="318.1"/>
</g>
<circle cx="411.75" cy="313.9" r="1.35" fill="#9a6a2a"/>
<circle cx="422.55" cy="313.9" r="1.35" fill="#9a6a2a"/>
<circle cx="417.25" cy="313" r="1.35" fill="#9a6a2a"/>
<circle cx="411.75" cy="317.9" r="1.15" fill="#fff" stroke="#9a6a2a" stroke-width="0.7"/>
<circle cx="417.25" cy="318.1" r="1.35" fill="#9a6a2a"/>
<circle cx="422.55" cy="316.5" r="1.15" fill="#fff" stroke="#9a6a2a" stroke-width="0.7"/>
<circle cx="422.55" cy="319.2" r="1.35" fill="#9a6a2a"/>
<circle cx="411.75" cy="321.5" r="1.35" fill="#9a6a2a"/>
<circle cx="417.25" cy="321.5" r="1.35" fill="#9a6a2a"/>
<g stroke="#1a1a99" stroke-width="0.8" fill="none">
<line x1="436.5" y1="287.5" x2="436.5" y2="292.9"/>
<line x1="433.3" y1="287.5" x2="439.7" y2="287.5" stroke-opacity="0.55"/>
<line x1="433.3" y1="307.5" x2="439.7" y2="307.5" stroke-opacity="0.55"/>
<rect x="430.1" y="292.9" width="12.8" height="14.6"/>
<line x1="430.1" y1="301.6" x2="442.9" y2="301.6"/>
</g>
<circle cx="436.5" cy="287.5" r="1.35" fill="#1a1a99"/>
<circle cx="436.5" cy="291.7" r="1.35" fill="#1a1a99"/>
<circle cx="434" cy="296.9" r="1.35" fill="#1a1a99"/>
<circle cx="439" cy="295.7" r="1.15" fill="#fff" stroke="#1a1a99" stroke-width="0.7"/>
<circle cx="431.4" cy="305.8" r="1.15" fill="#fff" stroke="#1a1a99" stroke-width="0.7"/>
<circle cx="436.5" cy="305.4" r="1.15" fill="#fff" stroke="#1a1a99" stroke-width="0.7"/>
<circle cx="442" cy="306.9" r="1.35" fill="#1a1a99"/>
<circle cx="431.4" cy="308.8" r="1.15" fill="#fff" stroke="#1a1a99" stroke-width="0.7"/>
<path d="M282.5,236.5 V228.5 H436.5 V284" stroke="#555" stroke-width="0.9" fill="none"/>
<circle cx="356.1" cy="224.6" r="1.15" fill="#1a1a1a"/>
<circle cx="359.5" cy="224.6" r="1.15" fill="#1a1a1a"/>
<circle cx="362.9" cy="224.6" r="1.15" fill="#1a1a1a"/>
<path d="M301.75,248.6 V240.6 H417.25 V309" stroke="#555" stroke-width="0.9" fill="none"/>
<circle cx="359.5" cy="236.7" r="1.15" fill="#1a1a1a"/>
<path d="M282.5,260.5 V252.5 H398 V273" stroke="#555" stroke-width="0.9" fill="none"/>
<circle cx="335.15" cy="248.6" r="1.15" fill="#1a1a1a"/>
<circle cx="338.55" cy="248.6" r="1.15" fill="#1a1a1a"/>
<circle cx="341.95" cy="248.6" r="1.15" fill="#1a1a1a"/>
<circle cx="345.35" cy="248.6" r="1.15" fill="#1a1a1a"/>
<path d="M282.5,272.5 V264.5 H359.5 V273" stroke="#555" stroke-width="0.9" fill="none"/>
<circle cx="319.3" cy="260.6" r="1.15" fill="#1a1a1a"/>
<circle cx="322.7" cy="260.6" r="1.15" fill="#1a1a1a"/>
<path d="M282.5,305 V276.3 H300.65 V298.4" stroke="#555" stroke-width="0.9" fill="none"/>
<circle cx="291.57" cy="272.4" r="1.15" fill="#1a1a1a"/>
<path d="M302.85,298.4 V276.3 H398 V280.4" stroke="#555" stroke-width="0.9" fill="none"/>
<circle cx="350.43" cy="272.4" r="1.15" fill="#1a1a1a"/>
<text x="472.2" y="221.3" font-family="Liberation Sans, sans-serif" font-weight="bold" stroke="#000" stroke-width="0.12" font-size="10">f (Day 42)</text>
<line x1="505.4" y1="281.8" x2="505.4" y2="338.3" stroke="#555" stroke-width="1"/>
<line x1="503.6" y1="338.3" x2="505.4" y2="338.3" stroke="#555" stroke-width="0.9"/>
<text transform="translate(503.4,338.3) scale(1,1)" y="2.55" font-family="Liberation Sans, sans-serif" font-weight="bold" stroke="#000" stroke-width="0.12" font-size="7.3" text-anchor="end">2</text>
<line x1="503.6" y1="327" x2="505.4" y2="327" stroke="#555" stroke-width="0.9"/>
<text transform="translate(503.4,327) scale(1,1)" y="2.55" font-family="Liberation Sans, sans-serif" font-weight="bold" stroke="#000" stroke-width="0.12" font-size="7.3" text-anchor="end">4</text>
<line x1="503.6" y1="315.7" x2="505.4" y2="315.7" stroke="#555" stroke-width="0.9"/>
<text transform="translate(503.4,315.7) scale(1,1)" y="2.55" font-family="Liberation Sans, sans-serif" font-weight="bold" stroke="#000" stroke-width="0.12" font-size="7.3" text-anchor="end">6</text>
<line x1="503.6" y1="304.4" x2="505.4" y2="304.4" stroke="#555" stroke-width="0.9"/>
<text transform="translate(503.4,304.4) scale(1,1)" y="2.55" font-family="Liberation Sans, sans-serif" font-weight="bold" stroke="#000" stroke-width="0.12" font-size="7.3" text-anchor="end">8</text>
<line x1="503.6" y1="293.1" x2="505.4" y2="293.1" stroke="#555" stroke-width="0.9"/>
<text transform="translate(503.4,293.1) scale(1,1)" y="2.55" font-family="Liberation Sans, sans-serif" font-weight="bold" stroke="#000" stroke-width="0.12" font-size="7.3" text-anchor="end">10</text>
<line x1="503.6" y1="281.8" x2="505.4" y2="281.8" stroke="#555" stroke-width="0.9"/>
<text transform="translate(503.4,281.8) scale(1,1)" y="2.55" font-family="Liberation Sans, sans-serif" font-weight="bold" stroke="#000" stroke-width="0.12" font-size="7.3" text-anchor="end">12</text>
<line x1="505.4" y1="338.3" x2="685" y2="338.3" stroke="#555" stroke-width="1"/>
<line x1="518.4" y1="338.3" x2="518.4" y2="340.1" stroke="#999" stroke-width="0.8"/>
<text transform="translate(520.7,346.1) scale(1,1) rotate(-45)" font-family="Liberation Sans, sans-serif" font-weight="bold" stroke="#000" stroke-width="0.12" font-size="7" text-anchor="end">None</text>
<line x1="537.53" y1="338.3" x2="537.53" y2="340.1" stroke="#999" stroke-width="0.8"/>
<text transform="translate(539.83,346.1) scale(1,1) rotate(-45)" font-family="Liberation Sans, sans-serif" font-weight="bold" stroke="#000" stroke-width="0.12" font-size="7" text-anchor="end">shark squalene SE</text>
<line x1="556.66" y1="338.3" x2="556.66" y2="340.1" stroke="#999" stroke-width="0.8"/>
<text transform="translate(558.96,346.1) scale(1,1) rotate(-45)" font-family="Liberation Sans, sans-serif" font-weight="bold" stroke="#000" stroke-width="0.12" font-size="7" text-anchor="end">long-chain triglyceride SE</text>
<line x1="575.79" y1="338.3" x2="575.79" y2="340.1" stroke="#999" stroke-width="0.8"/>
<text transform="translate(578.09,346.1) scale(1,1) rotate(-45)" font-family="Liberation Sans, sans-serif" font-weight="bold" stroke="#000" stroke-width="0.12" font-size="7" text-anchor="end">difarnesyl ether SE</text>
<line x1="594.92" y1="338.3" x2="594.92" y2="340.1" stroke="#999" stroke-width="0.8"/>
<text transform="translate(597.22,346.1) scale(1,1) rotate(-45)" font-family="Liberation Sans, sans-serif" font-weight="bold" stroke="#000" stroke-width="0.12" font-size="7" text-anchor="end">alcohols C SE</text>
<line x1="614.05" y1="338.3" x2="614.05" y2="340.1" stroke="#999" stroke-width="0.8"/>
<text transform="translate(616.35,346.1) scale(1,1) rotate(-45)" font-family="Liberation Sans, sans-serif" font-weight="bold" stroke="#000" stroke-width="0.12" font-size="7" text-anchor="end">aldehydes A SE</text>
<line x1="633.18" y1="338.3" x2="633.18" y2="340.1" stroke="#999" stroke-width="0.8"/>
<text transform="translate(635.48,346.1) scale(1,1) rotate(-45)" font-family="Liberation Sans, sans-serif" font-weight="bold" stroke="#000" stroke-width="0.12" font-size="7" text-anchor="end">acids A SE</text>
<line x1="652.31" y1="338.3" x2="652.31" y2="340.1" stroke="#999" stroke-width="0.8"/>
<text transform="translate(654.61,346.1) scale(1,1) rotate(-45)" font-family="Liberation Sans, sans-serif" font-weight="bold" stroke="#000" stroke-width="0.12" font-size="7" text-anchor="end">esters A SE</text>
<line x1="671.44" y1="338.3" x2="671.44" y2="340.1" stroke="#999" stroke-width="0.8"/>
<text transform="translate(673.74,346.1) scale(1,1) rotate(-45)" font-family="Liberation Sans, sans-serif" font-weight="bold" stroke="#000" stroke-width="0.12" font-size="7" text-anchor="end">alcohols A SE</text>
<text transform="translate(479.1,308.1) scale(1,0.9) rotate(-90)" font-family="Liberation Sans, sans-serif" font-weight="bold" stroke="#000" stroke-width="0.12" font-size="8.2" text-anchor="middle" dominant-baseline="central">HAI Titer</text>
<text transform="translate(488.6,308.5) scale(1,0.94) rotate(-90)" font-family="Liberation Sans, sans-serif" font-weight="bold" stroke="#000" stroke-width="0.12" font-size="8.2" text-anchor="middle" dominant-baseline="central">Log<tspan font-size="6.6" dy="1.8">2</tspan></text>
<g stroke="#1d7048" stroke-width="0.8" fill="none">
<line x1="515.4" y1="308.4" x2="521.4" y2="308.4" stroke-opacity="0.55"/>
<line x1="518.4" y1="314.5" x2="518.4" y2="319.4"/>
<line x1="515.4" y1="319.4" x2="521.4" y2="319.4" stroke-opacity="0.55"/>
<rect x="512.1" y="308.4" width="12.6" height="6.1"/>
<line x1="512.1" y1="313.7" x2="524.7" y2="313.7"/>
</g>
<circle cx="514.3" cy="308.4" r="1.35" fill="#1d7048"/>
<circle cx="518.4" cy="308.4" r="1.15" fill="#fff" stroke="#1d7048" stroke-width="0.7"/>
<circle cx="521.7" cy="308.4" r="1.15" fill="#fff" stroke="#1d7048" stroke-width="0.7"/>
<circle cx="513.2" cy="313.7" r="1.35" fill="#1d7048"/>
<circle cx="516.6" cy="313.7" r="1.35" fill="#1d7048"/>
<circle cx="520" cy="313.7" r="1.35" fill="#1d7048"/>
<circle cx="523.4" cy="313.7" r="1.35" fill="#1d7048"/>
<circle cx="518.4" cy="319.4" r="1.35" fill="#1d7048"/>
<g stroke="#0000ff" stroke-width="0.8" fill="none">
<line x1="537.53" y1="291.1" x2="537.53" y2="297"/>
<line x1="534.53" y1="291.1" x2="540.53" y2="291.1" stroke-opacity="0.55"/>
<line x1="537.53" y1="306.1" x2="537.53" y2="308.2"/>
<line x1="534.53" y1="308.2" x2="540.53" y2="308.2" stroke-opacity="0.55"/>
<rect x="531.23" y="297" width="12.6" height="9.1"/>
<line x1="531.23" y1="302.5" x2="543.83" y2="302.5"/>
</g>
<circle cx="537.53" cy="291.1" r="1.35" fill="#0000ff"/>
<circle cx="534.63" cy="296.6" r="1.35" fill="#0000ff"/>
<circle cx="540.43" cy="296.6" r="1.15" fill="#fff" stroke="#0000ff" stroke-width="0.7"/>
<circle cx="531.53" cy="302.5" r="1.35" fill="#0000ff"/>
<circle cx="537.53" cy="302.5" r="1.35" fill="#0000ff"/>
<circle cx="543.03" cy="302.5" r="1.15" fill="#fff" stroke="#0000ff" stroke-width="0.7"/>
<circle cx="534.63" cy="308.2" r="1.35" fill="#0000ff"/>
<circle cx="537.53" cy="308.2" r="1.15" fill="#fff" stroke="#0000ff" stroke-width="0.7"/>
<circle cx="540.43" cy="308.2" r="1.35" fill="#0000ff"/>
<g stroke="#ff0000" stroke-width="0.8" fill="none">
<line x1="556.66" y1="296.8" x2="556.66" y2="307.6"/>
<line x1="553.66" y1="296.8" x2="559.66" y2="296.8" stroke-opacity="0.55"/>
<line x1="556.66" y1="312.2" x2="556.66" y2="314.1"/>
<line x1="553.66" y1="314.1" x2="559.66" y2="314.1" stroke-opacity="0.55"/>
<rect x="550.36" y="307.6" width="12.6" height="4.6"/>
<line x1="550.36" y1="309.5" x2="562.96" y2="309.5"/>
</g>
<circle cx="556.66" cy="296.8" r="1.35" fill="#ff0000"/>
<circle cx="551.56" cy="308.2" r="1.35" fill="#ff0000"/>
<circle cx="554.36" cy="308.2" r="1.35" fill="#ff0000"/>
<circle cx="557.26" cy="308.2" r="1.35" fill="#ff0000"/>
<circle cx="560.06" cy="308.2" r="1.35" fill="#ff0000"/>
<circle cx="562.36" cy="308.2" r="1.35" fill="#ff0000"/>
<circle cx="554.96" cy="314.1" r="1.35" fill="#ff0000"/>
<circle cx="558.36" cy="314.1" r="1.35" fill="#ff0000"/>
<g stroke="#1ec81e" stroke-width="0.8" fill="none">
<line x1="575.79" y1="285.4" x2="575.79" y2="297"/>
<line x1="572.79" y1="285.4" x2="578.79" y2="285.4" stroke-opacity="0.55"/>
<line x1="572.79" y1="308.4" x2="578.79" y2="308.4" stroke-opacity="0.55"/>
<rect x="569.49" y="297" width="12.6" height="11.4"/>
<line x1="569.49" y1="308.4" x2="582.09" y2="308.4"/>
</g>
<circle cx="575.79" cy="285.4" r="1.15" fill="#fff" stroke="#1ec81e" stroke-width="0.7"/>
<circle cx="574.69" cy="296.8" r="1.35" fill="#1ec81e"/>
<circle cx="577.19" cy="296.8" r="1.35" fill="#1ec81e"/>
<circle cx="570.29" cy="308.4" r="1.35" fill="#1ec81e"/>
<circle cx="573.09" cy="308.4" r="1.35" fill="#1ec81e"/>
<circle cx="575.79" cy="308.4" r="1.35" fill="#1ec81e"/>
<circle cx="578.29" cy="308.4" r="1.35" fill="#1ec81e"/>
<circle cx="581.19" cy="308.4" r="1.35" fill="#1ec81e"/>
<g stroke="#b000f0" stroke-width="0.8" fill="none">
<line x1="594.92" y1="285.5" x2="594.92" y2="291.4"/>
<line x1="591.92" y1="285.5" x2="597.92" y2="285.5" stroke-opacity="0.55"/>
<line x1="594.92" y1="308" x2="594.92" y2="313.9"/>
<line x1="591.92" y1="313.9" x2="597.92" y2="313.9" stroke-opacity="0.55"/>
<rect x="588.62" y="291.4" width="12.6" height="16.6"/>
<line x1="588.62" y1="306" x2="601.22" y2="306"/>
</g>
<circle cx="594.92" cy="285.5" r="1.35" fill="#b000f0"/>
<circle cx="592.02" cy="291" r="1.35" fill="#b000f0"/>
<circle cx="597.82" cy="291" r="1.35" fill="#b000f0"/>
<circle cx="594.92" cy="302.6" r="1.15" fill="#fff" stroke="#b000f0" stroke-width="0.7"/>
<circle cx="589.42" cy="308" r="1.15" fill="#fff" stroke="#b000f0" stroke-width="0.7"/>
<circle cx="594.92" cy="308" r="1.35" fill="#b000f0"/>
<circle cx="600.32" cy="308" r="1.15" fill="#fff" stroke="#b000f0" stroke-width="0.7"/>
<circle cx="594.92" cy="313.9" r="1.35" fill="#b000f0"/>
<g stroke="#ff8000" stroke-width="0.8" fill="none">
<line x1="614.05" y1="291" x2="614.05" y2="291.4"/>
<line x1="611.05" y1="291" x2="617.05" y2="291" stroke-opacity="0.55"/>
<line x1="614.05" y1="308" x2="614.05" y2="313.9"/>
<line x1="611.05" y1="313.9" x2="617.05" y2="313.9" stroke-opacity="0.55"/>
<rect x="607.75" y="291.4" width="12.6" height="16.6"/>
<line x1="607.75" y1="308" x2="620.35" y2="308"/>
</g>
<circle cx="610.85" cy="291" r="1.35" fill="#ff8000"/>
<circle cx="616.95" cy="291" r="1.35" fill="#ff8000"/>
<circle cx="614.05" cy="302.6" r="1.35" fill="#ff8000"/>
<circle cx="608.25" cy="308" r="1.35" fill="#ff8000"/>
<circle cx="614.05" cy="308" r="1.35" fill="#ff8000"/>
<circle cx="619.15" cy="308" r="1.35" fill="#ff8000"/>
<circle cx="614.05" cy="313.9" r="1.15" fill="#fff" stroke="#ff8000" stroke-width="0.7"/>
<g stroke="#000000" stroke-width="0.8" fill="none">
<line x1="630.18" y1="285.5" x2="636.18" y2="285.5" stroke-opacity="0.55"/>
<line x1="633.18" y1="299" x2="633.18" y2="308"/>
<line x1="630.18" y1="308" x2="636.18" y2="308" stroke-opacity="0.55"/>
<rect x="626.88" y="285.5" width="12.6" height="13.5"/>
<line x1="626.88" y1="288" x2="639.48" y2="288"/>
</g>
<circle cx="628.08" cy="285.5" r="1.35" fill="#000000"/>
<circle cx="631.38" cy="285.5" r="1.35" fill="#000000"/>
<circle cx="635.38" cy="285.5" r="1.15" fill="#fff" stroke="#000000" stroke-width="0.7"/>
<circle cx="638.98" cy="285.5" r="1.15" fill="#fff" stroke="#000000" stroke-width="0.7"/>
<circle cx="631.38" cy="291" r="1.35" fill="#000000"/>
<circle cx="635.38" cy="291" r="1.35" fill="#000000"/>
<circle cx="633.18" cy="302.2" r="1.15" fill="#fff" stroke="#000000" stroke-width="0.7"/>
<circle cx="633.18" cy="308" r="1.15" fill="#fff" stroke="#000000" stroke-width="0.7"/>
<g stroke="#9a6a2a" stroke-width="0.8" fill="none">
<line x1="652.31" y1="296.8" x2="652.31" y2="300.1"/>
<line x1="649.31" y1="296.8" x2="655.31" y2="296.8" stroke-opacity="0.55"/>
<line x1="652.31" y1="308" x2="652.31" y2="313.9"/>
<line x1="649.31" y1="313.9" x2="655.31" y2="313.9" stroke-opacity="0.55"/>
<rect x="646.01" y="300.1" width="12.6" height="7.9"/>
<line x1="646.01" y1="308" x2="658.61" y2="308"/>
</g>
<circle cx="650.81" cy="296.8" r="1.35" fill="#9a6a2a"/>
<circle cx="653.81" cy="296.8" r="1.35" fill="#9a6a2a"/>
<circle cx="647.01" cy="308" r="1.15" fill="#fff" stroke="#9a6a2a" stroke-width="0.7"/>
<circle cx="650.01" cy="308" r="1.35" fill="#9a6a2a"/>
<circle cx="652.31" cy="308" r="1.35" fill="#9a6a2a"/>
<circle cx="654.91" cy="308" r="1.35" fill="#9a6a2a"/>
<circle cx="658.11" cy="308" r="1.15" fill="#fff" stroke="#9a6a2a" stroke-width="0.7"/>
<circle cx="652.31" cy="313.9" r="1.15" fill="#fff" stroke="#9a6a2a" stroke-width="0.7"/>
<g stroke="#1a1a99" stroke-width="0.8" fill="none">
<line x1="668.44" y1="285.5" x2="674.44" y2="285.5" stroke-opacity="0.55"/>
<line x1="671.44" y1="306.6" x2="671.44" y2="308"/>
<line x1="668.44" y1="308" x2="674.44" y2="308" stroke-opacity="0.55"/>
<rect x="665.14" y="285.5" width="12.6" height="21.1"/>
<line x1="665.14" y1="291" x2="677.74" y2="291"/>
</g>
<circle cx="666.04" cy="285.5" r="1.15" fill="#fff" stroke="#1a1a99" stroke-width="0.7"/>
<circle cx="669.44" cy="285.5" r="1.35" fill="#1a1a99"/>
<circle cx="673.34" cy="285.5" r="1.35" fill="#1a1a99"/>
<circle cx="677.04" cy="285.5" r="1.15" fill="#fff" stroke="#1a1a99" stroke-width="0.7"/>
<circle cx="671.44" cy="296.8" r="1.35" fill="#1a1a99"/>
<circle cx="671.44" cy="302.6" r="1.35" fill="#1a1a99"/>
<circle cx="668.94" cy="308" r="1.15" fill="#fff" stroke="#1a1a99" stroke-width="0.7"/>
<circle cx="671.84" cy="308" r="1.35" fill="#1a1a99"/>
<circle cx="674.04" cy="308" r="1.15" fill="#fff" stroke="#1a1a99" stroke-width="0.7"/>
<path d="M518.4,263 V255.2 H671.44 V283" stroke="#555" stroke-width="0.9" fill="none"/>
<circle cx="593.22" cy="251.3" r="1.15" fill="#1a1a1a"/>
<circle cx="596.62" cy="251.3" r="1.15" fill="#1a1a1a"/>
<path d="M518.4,275 V267.3 H633.18 V282.4" stroke="#555" stroke-width="0.9" fill="none"/>
<circle cx="572.39" cy="263.4" r="1.15" fill="#1a1a1a"/>
<circle cx="575.79" cy="263.4" r="1.15" fill="#1a1a1a"/>
<circle cx="579.19" cy="263.4" r="1.15" fill="#1a1a1a"/>
<path d="M518.4,305 V279.4 H537.53 V288" stroke="#555" stroke-width="0.9" fill="none"/>
<circle cx="527.96" cy="275.5" r="1.15" fill="#1a1a1a"/>
<text x="-0.6" y="421.8" font-family="Liberation Sans, sans-serif" font-weight="bold" stroke="#000" stroke-width="0.12" font-size="10">g (Day 42)</text>
<line x1="30.2" y1="454.4" x2="30.2" y2="511" stroke="#555" stroke-width="1"/>
<line x1="28.4" y1="511" x2="30.2" y2="511" stroke="#555" stroke-width="0.9"/>
<text transform="translate(28.2,511) scale(1,1)" y="2.55" font-family="Liberation Sans, sans-serif" font-weight="bold" stroke="#000" stroke-width="0.12" font-size="7.3" text-anchor="end">2</text>
<line x1="28.4" y1="501.57" x2="30.2" y2="501.57" stroke="#555" stroke-width="0.9"/>
<text transform="translate(28.2,501.57) scale(1,1)" y="2.55" font-family="Liberation Sans, sans-serif" font-weight="bold" stroke="#000" stroke-width="0.12" font-size="7.3" text-anchor="end">3</text>
<line x1="28.4" y1="492.14" x2="30.2" y2="492.14" stroke="#555" stroke-width="0.9"/>
<text transform="translate(28.2,492.14) scale(1,1)" y="2.55" font-family="Liberation Sans, sans-serif" font-weight="bold" stroke="#000" stroke-width="0.12" font-size="7.3" text-anchor="end">4</text>
<line x1="28.4" y1="482.71" x2="30.2" y2="482.71" stroke="#555" stroke-width="0.9"/>
<text transform="translate(28.2,482.71) scale(1,1)" y="2.55" font-family="Liberation Sans, sans-serif" font-weight="bold" stroke="#000" stroke-width="0.12" font-size="7.3" text-anchor="end">5</text>
<line x1="28.4" y1="473.28" x2="30.2" y2="473.28" stroke="#555" stroke-width="0.9"/>
<text transform="translate(28.2,473.28) scale(1,1)" y="2.55" font-family="Liberation Sans, sans-serif" font-weight="bold" stroke="#000" stroke-width="0.12" font-size="7.3" text-anchor="end">6</text>
<line x1="28.4" y1="463.85" x2="30.2" y2="463.85" stroke="#555" stroke-width="0.9"/>
<text transform="translate(28.2,463.85) scale(1,1)" y="2.55" font-family="Liberation Sans, sans-serif" font-weight="bold" stroke="#000" stroke-width="0.12" font-size="7.3" text-anchor="end">7</text>
<line x1="28.4" y1="454.42" x2="30.2" y2="454.42" stroke="#555" stroke-width="0.9"/>
<text transform="translate(28.2,454.42) scale(1,1)" y="2.55" font-family="Liberation Sans, sans-serif" font-weight="bold" stroke="#000" stroke-width="0.12" font-size="7.3" text-anchor="end">8</text>
<line x1="30.2" y1="511" x2="210" y2="511" stroke="#555" stroke-width="1"/>
<line x1="41.7" y1="511" x2="41.7" y2="512.8" stroke="#999" stroke-width="0.8"/>
<text transform="translate(44,518.8) scale(1,1) rotate(-45)" font-family="Liberation Sans, sans-serif" font-weight="bold" stroke="#000" stroke-width="0.12" font-size="7" text-anchor="end">None</text>
<line x1="64.1" y1="511" x2="64.1" y2="512.8" stroke="#999" stroke-width="0.8"/>
<text transform="translate(66.4,518.8) scale(1,1) rotate(-45)" font-family="Liberation Sans, sans-serif" font-weight="bold" stroke="#000" stroke-width="0.12" font-size="7" text-anchor="end">shark squalene SE</text>
<line x1="86.5" y1="511" x2="86.5" y2="512.8" stroke="#999" stroke-width="0.8"/>
<text transform="translate(88.8,518.8) scale(1,1) rotate(-45)" font-family="Liberation Sans, sans-serif" font-weight="bold" stroke="#000" stroke-width="0.12" font-size="7" text-anchor="end">ether 2 SE</text>
<line x1="108.9" y1="511" x2="108.9" y2="512.8" stroke="#999" stroke-width="0.8"/>
<text transform="translate(111.2,518.8) scale(1,1) rotate(-45)" font-family="Liberation Sans, sans-serif" font-weight="bold" stroke="#000" stroke-width="0.12" font-size="7" text-anchor="end">ether 3 SE</text>
<line x1="131.3" y1="511" x2="131.3" y2="512.8" stroke="#999" stroke-width="0.8"/>
<text transform="translate(133.6,518.8) scale(1,1) rotate(-45)" font-family="Liberation Sans, sans-serif" font-weight="bold" stroke="#000" stroke-width="0.12" font-size="7" text-anchor="end">ether 4 SE</text>
<line x1="153.7" y1="511" x2="153.7" y2="512.8" stroke="#999" stroke-width="0.8"/>
<text transform="translate(156,518.8) scale(1,1) rotate(-45)" font-family="Liberation Sans, sans-serif" font-weight="bold" stroke="#000" stroke-width="0.12" font-size="7" text-anchor="end">ether 5 SE</text>
<line x1="176.1" y1="511" x2="176.1" y2="512.8" stroke="#999" stroke-width="0.8"/>
<text transform="translate(178.4,518.8) scale(1,1) rotate(-45)" font-family="Liberation Sans, sans-serif" font-weight="bold" stroke="#000" stroke-width="0.12" font-size="7" text-anchor="end">shark squalene MF59-like</text>
<line x1="198.5" y1="511" x2="198.5" y2="512.8" stroke="#999" stroke-width="0.8"/>
<text transform="translate(200.8,518.8) scale(1,1) rotate(-45)" font-family="Liberation Sans, sans-serif" font-weight="bold" stroke="#000" stroke-width="0.12" font-size="7" text-anchor="end">diols B MF59-like</text>
<text transform="translate(8.1,481.5) scale(1,1) rotate(-90)" font-family="Liberation Sans, sans-serif" font-weight="bold" stroke="#000" stroke-width="0.12" font-size="7.9" text-anchor="middle" dominant-baseline="central">IgGT Endpoint Titers</text>
<text transform="translate(17,481.6) scale(1,0.92) rotate(-90)" font-family="Liberation Sans, sans-serif" font-weight="bold" stroke="#000" stroke-width="0.12" font-size="8.2" text-anchor="middle" dominant-baseline="central">(Log<tspan font-size="6.6" dy="1.7">10</tspan><tspan dy="-1.7">)</tspan></text>
<g stroke="#1d7048" stroke-width="0.8" fill="none">
<line x1="41.7" y1="477.9" x2="41.7" y2="480.3"/>
<line x1="38.2" y1="477.9" x2="45.2" y2="477.9" stroke-opacity="0.55"/>
<line x1="41.7" y1="485.6" x2="41.7" y2="492.6"/>
<line x1="38.2" y1="492.6" x2="45.2" y2="492.6" stroke-opacity="0.55"/>
<rect x="34.35" y="480.3" width="14.7" height="5.3"/>
<line x1="34.35" y1="482.7" x2="49.05" y2="482.7"/>
</g>
<circle cx="39.8" cy="479.1" r="1.35" fill="#1d7048"/>
<circle cx="44.1" cy="477.9" r="1.35" fill="#1d7048"/>
<circle cx="35.7" cy="484.4" r="1.35" fill="#1d7048"/>
<circle cx="48" cy="485.1" r="1.35" fill="#1d7048"/>
<circle cx="39.8" cy="485.3" r="1.15" fill="#fff" stroke="#1d7048" stroke-width="0.7"/>
<circle cx="44.1" cy="482.7" r="1.15" fill="#fff" stroke="#1d7048" stroke-width="0.7"/>
<circle cx="41.7" cy="485.6" r="1.35" fill="#1d7048"/>
<circle cx="41.7" cy="492.6" r="1.35" fill="#1d7048"/>
<g stroke="#0000ff" stroke-width="0.8" fill="none">
<line x1="64.1" y1="468" x2="64.1" y2="470.5"/>
<line x1="60.6" y1="468" x2="67.6" y2="468" stroke-opacity="0.55"/>
<line x1="64.1" y1="482.4" x2="64.1" y2="486.6"/>
<line x1="60.6" y1="486.6" x2="67.6" y2="486.6" stroke-opacity="0.55"/>
<rect x="56.75" y="470.5" width="14.7" height="11.9"/>
<line x1="56.75" y1="479.5" x2="71.45" y2="479.5"/>
</g>
<circle cx="61.9" cy="468" r="1.35" fill="#0000ff"/>
<circle cx="66.2" cy="468.9" r="1.35" fill="#0000ff"/>
<circle cx="64.1" cy="473.4" r="1.35" fill="#0000ff"/>
<circle cx="61.9" cy="477.9" r="1.15" fill="#fff" stroke="#0000ff" stroke-width="0.7"/>
<circle cx="66.2" cy="479.5" r="1.35" fill="#0000ff"/>
<circle cx="61.9" cy="480.8" r="1.15" fill="#fff" stroke="#0000ff" stroke-width="0.7"/>
<circle cx="64.1" cy="486.6" r="1.35" fill="#0000ff"/>
<g stroke="#1ec81e" stroke-width="0.8" fill="none">
<line x1="86.5" y1="477.4" x2="86.5" y2="480.1"/>
<line x1="83" y1="477.4" x2="90" y2="477.4" stroke-opacity="0.55"/>
<line x1="86.5" y1="486.1" x2="86.5" y2="490"/>
<line x1="83" y1="490" x2="90" y2="490" stroke-opacity="0.55"/>
<rect x="79.15" y="480.1" width="14.7" height="6"/>
<line x1="79.15" y1="482.2" x2="93.85" y2="482.2"/>
</g>
<circle cx="82.2" cy="477.4" r="1.35" fill="#1ec81e"/>
<circle cx="91.3" cy="479.3" r="1.35" fill="#1ec81e"/>
<circle cx="82.2" cy="481.3" r="1.15" fill="#fff" stroke="#1ec81e" stroke-width="0.7"/>
<circle cx="86.5" cy="482.2" r="1.35" fill="#1ec81e"/>
<circle cx="91.3" cy="481.3" r="1.35" fill="#1ec81e"/>
<circle cx="84.1" cy="486.1" r="1.15" fill="#fff" stroke="#1ec81e" stroke-width="0.7"/>
<circle cx="88.9" cy="487.2" r="1.15" fill="#fff" stroke="#1ec81e" stroke-width="0.7"/>
<circle cx="86.5" cy="490" r="1.35" fill="#1ec81e"/>
<g stroke="#b000f0" stroke-width="0.8" fill="none">
<line x1="108.9" y1="470.2" x2="108.9" y2="477.4"/>
<line x1="105.4" y1="470.2" x2="112.4" y2="470.2" stroke-opacity="0.55"/>
<line x1="108.9" y1="481.7" x2="108.9" y2="486.1"/>
<line x1="105.4" y1="486.1" x2="112.4" y2="486.1" stroke-opacity="0.55"/>
<rect x="101.55" y="477.4" width="14.7" height="4.3"/>
<line x1="101.55" y1="479.8" x2="116.25" y2="479.8"/>
</g>
<circle cx="108.9" cy="470.2" r="1.35" fill="#b000f0"/>
<circle cx="108.9" cy="476.5" r="1.35" fill="#b000f0"/>
<circle cx="102.3" cy="479.8" r="1.15" fill="#fff" stroke="#b000f0" stroke-width="0.7"/>
<circle cx="106.6" cy="480.8" r="1.15" fill="#fff" stroke="#b000f0" stroke-width="0.7"/>
<circle cx="112.4" cy="479.5" r="1.15" fill="#fff" stroke="#b000f0" stroke-width="0.7"/>
<circle cx="115.3" cy="480.3" r="1.35" fill="#b000f0"/>
<circle cx="110.5" cy="481.7" r="1.35" fill="#b000f0"/>
<circle cx="108.9" cy="486.1" r="1.35" fill="#b000f0"/>
<g stroke="#ff8000" stroke-width="0.8" fill="none">
<line x1="131.3" y1="474" x2="131.3" y2="474.3"/>
<line x1="127.8" y1="474" x2="134.8" y2="474" stroke-opacity="0.55"/>
<line x1="131.3" y1="482.4" x2="131.3" y2="485.1"/>
<line x1="127.8" y1="485.1" x2="134.8" y2="485.1" stroke-opacity="0.55"/>
<rect x="123.95" y="474.3" width="14.7" height="8.1"/>
<line x1="123.95" y1="474.5" x2="138.65" y2="474.5"/>
</g>
<circle cx="125.4" cy="474.5" r="1.35" fill="#ff8000"/>
<circle cx="128.8" cy="474" r="1.15" fill="#fff" stroke="#ff8000" stroke-width="0.7"/>
<circle cx="132.2" cy="474" r="1.15" fill="#fff" stroke="#ff8000" stroke-width="0.7"/>
<circle cx="134.6" cy="474.3" r="1.15" fill="#fff" stroke="#ff8000" stroke-width="0.7"/>
<circle cx="137.5" cy="474.5" r="1.35" fill="#ff8000"/>
<circle cx="131.3" cy="480.8" r="1.15" fill="#fff" stroke="#ff8000" stroke-width="0.7"/>
<circle cx="134.6" cy="482.2" r="1.15" fill="#fff" stroke="#ff8000" stroke-width="0.7"/>
<circle cx="128.5" cy="485.1" r="1.35" fill="#ff8000"/>
<g stroke="#000000" stroke-width="0.8" fill="none">
<line x1="153.7" y1="467.8" x2="153.7" y2="470.5"/>
<line x1="150.2" y1="467.8" x2="157.2" y2="467.8" stroke-opacity="0.55"/>
<line x1="153.7" y1="481.7" x2="153.7" y2="488.2"/>
<line x1="150.2" y1="488.2" x2="157.2" y2="488.2" stroke-opacity="0.55"/>
<rect x="146.35" y="470.5" width="14.7" height="11.2"/>
<line x1="146.35" y1="476.3" x2="161.05" y2="476.3"/>
</g>
<circle cx="153.7" cy="467.8" r="1.35" fill="#000000"/>
<circle cx="153.7" cy="470.2" r="1.35" fill="#000000"/>
<circle cx="158.2" cy="469.9" r="1.35" fill="#000000"/>
<circle cx="153.7" cy="474" r="1.35" fill="#000000"/>
<circle cx="153.7" cy="478.2" r="1.15" fill="#fff" stroke="#000000" stroke-width="0.7"/>
<circle cx="158.2" cy="480.1" r="1.15" fill="#fff" stroke="#000000" stroke-width="0.7"/>
<circle cx="153.7" cy="481.7" r="1.35" fill="#000000"/>
<circle cx="153.7" cy="488.2" r="1.35" fill="#000000"/>
<g stroke="#9a6a2a" stroke-width="0.8" fill="none">
<line x1="176.1" y1="468.5" x2="176.1" y2="471.5"/>
<line x1="172.6" y1="468.5" x2="179.6" y2="468.5" stroke-opacity="0.55"/>
<line x1="176.1" y1="476.5" x2="176.1" y2="477.5"/>
<line x1="172.6" y1="477.5" x2="179.6" y2="477.5" stroke-opacity="0.55"/>
<rect x="168.75" y="471.5" width="14.7" height="5"/>
<line x1="168.75" y1="474" x2="183.45" y2="474"/>
</g>
<circle cx="176.1" cy="468.5" r="1.35" fill="#9a6a2a"/>
<circle cx="176.1" cy="469.8" r="1.35" fill="#9a6a2a"/>
<circle cx="171.3" cy="472" r="1.35" fill="#9a6a2a"/>
<circle cx="176.1" cy="472" r="1.35" fill="#9a6a2a"/>
<circle cx="180" cy="472" r="1.15" fill="#fff" stroke="#9a6a2a" stroke-width="0.7"/>
<circle cx="176.1" cy="475.2" r="1.15" fill="#fff" stroke="#9a6a2a" stroke-width="0.7"/>
<circle cx="180.3" cy="474.8" r="1.15" fill="#fff" stroke="#9a6a2a" stroke-width="0.7"/>
<circle cx="171.3" cy="477.5" r="1.15" fill="#fff" stroke="#9a6a2a" stroke-width="0.7"/>
<g stroke="#1a1a99" stroke-width="0.8" fill="none">
<line x1="198.5" y1="457.4" x2="198.5" y2="462.2"/>
<line x1="195" y1="457.4" x2="202" y2="457.4" stroke-opacity="0.55"/>
<line x1="198.5" y1="472.8" x2="198.5" y2="473.8"/>
<line x1="195" y1="473.8" x2="202" y2="473.8" stroke-opacity="0.55"/>
<rect x="191.15" y="462.2" width="14.7" height="10.6"/>
<line x1="191.15" y1="467.4" x2="205.85" y2="467.4"/>
</g>
<circle cx="198.5" cy="457.4" r="1.35" fill="#1a1a99"/>
<circle cx="202.9" cy="461.9" r="1.35" fill="#1a1a99"/>
<circle cx="198.5" cy="464.4" r="1.35" fill="#1a1a99"/>
<circle cx="198.5" cy="466.9" r="1.15" fill="#fff" stroke="#1a1a99" stroke-width="0.7"/>
<circle cx="193.8" cy="473.8" r="1.15" fill="#fff" stroke="#1a1a99" stroke-width="0.7"/>
<circle cx="198.5" cy="472.1" r="1.15" fill="#fff" stroke="#1a1a99" stroke-width="0.7"/>
<circle cx="202.9" cy="472.8" r="1.35" fill="#1a1a99"/>
<path d="M41.7,446.4 V438.4 H198.5 V454" stroke="#555" stroke-width="0.9" fill="none"/>
<circle cx="115" cy="434.5" r="1.15" fill="#1a1a1a"/>
<circle cx="118.4" cy="434.5" r="1.15" fill="#1a1a1a"/>
<circle cx="121.8" cy="434.5" r="1.15" fill="#1a1a1a"/>
<circle cx="125.2" cy="434.5" r="1.15" fill="#1a1a1a"/>
<path d="M41.7,475 V450.6 H176.1 V465.6" stroke="#555" stroke-width="0.9" fill="none"/>
<circle cx="107.2" cy="446.7" r="1.15" fill="#1a1a1a"/>
<circle cx="110.6" cy="446.7" r="1.15" fill="#1a1a1a"/>
<text x="233.8" y="421.8" font-family="Liberation Sans, sans-serif" font-weight="bold" stroke="#000" stroke-width="0.12" font-size="10">h (Day 42)</text>
<line x1="269.4" y1="454.3" x2="269.4" y2="511" stroke="#555" stroke-width="1"/>
<line x1="267.6" y1="511" x2="269.4" y2="511" stroke="#555" stroke-width="0.9"/>
<text transform="translate(267.4,511) scale(1,1)" y="2.55" font-family="Liberation Sans, sans-serif" font-weight="bold" stroke="#000" stroke-width="0.12" font-size="7.3" text-anchor="end">0.0</text>
<line x1="267.6" y1="502.9" x2="269.4" y2="502.9" stroke="#555" stroke-width="0.9"/>
<text transform="translate(267.4,502.9) scale(1,1)" y="2.55" font-family="Liberation Sans, sans-serif" font-weight="bold" stroke="#000" stroke-width="0.12" font-size="7.3" text-anchor="end">0.5</text>
<line x1="267.6" y1="494.8" x2="269.4" y2="494.8" stroke="#555" stroke-width="0.9"/>
<text transform="translate(267.4,494.8) scale(1,1)" y="2.55" font-family="Liberation Sans, sans-serif" font-weight="bold" stroke="#000" stroke-width="0.12" font-size="7.3" text-anchor="end">1.0</text>
<line x1="267.6" y1="486.7" x2="269.4" y2="486.7" stroke="#555" stroke-width="0.9"/>
<text transform="translate(267.4,486.7) scale(1,1)" y="2.55" font-family="Liberation Sans, sans-serif" font-weight="bold" stroke="#000" stroke-width="0.12" font-size="7.3" text-anchor="end">1.5</text>
<line x1="267.6" y1="478.6" x2="269.4" y2="478.6" stroke="#555" stroke-width="0.9"/>
<text transform="translate(267.4,478.6) scale(1,1)" y="2.55" font-family="Liberation Sans, sans-serif" font-weight="bold" stroke="#000" stroke-width="0.12" font-size="7.3" text-anchor="end">2.0</text>
<line x1="267.6" y1="470.5" x2="269.4" y2="470.5" stroke="#555" stroke-width="0.9"/>
<text transform="translate(267.4,470.5) scale(1,1)" y="2.55" font-family="Liberation Sans, sans-serif" font-weight="bold" stroke="#000" stroke-width="0.12" font-size="7.3" text-anchor="end">2.5</text>
<line x1="267.6" y1="462.4" x2="269.4" y2="462.4" stroke="#555" stroke-width="0.9"/>
<text transform="translate(267.4,462.4) scale(1,1)" y="2.55" font-family="Liberation Sans, sans-serif" font-weight="bold" stroke="#000" stroke-width="0.12" font-size="7.3" text-anchor="end">3.0</text>
<line x1="267.6" y1="454.3" x2="269.4" y2="454.3" stroke="#555" stroke-width="0.9"/>
<text transform="translate(267.4,454.3) scale(1,1)" y="2.55" font-family="Liberation Sans, sans-serif" font-weight="bold" stroke="#000" stroke-width="0.12" font-size="7.3" text-anchor="end">3.5</text>
<line x1="269.4" y1="511" x2="449.6" y2="511" stroke="#555" stroke-width="1"/>
<line x1="284.4" y1="511" x2="284.4" y2="512.8" stroke="#999" stroke-width="0.8"/>
<text transform="translate(286.7,518.8) scale(1,1) rotate(-45)" font-family="Liberation Sans, sans-serif" font-weight="bold" stroke="#000" stroke-width="0.12" font-size="7" text-anchor="end">None</text>
<line x1="305.83" y1="511" x2="305.83" y2="512.8" stroke="#999" stroke-width="0.8"/>
<text transform="translate(308.13,518.8) scale(1,1) rotate(-45)" font-family="Liberation Sans, sans-serif" font-weight="bold" stroke="#000" stroke-width="0.12" font-size="7" text-anchor="end">shark squalene SE</text>
<line x1="327.26" y1="511" x2="327.26" y2="512.8" stroke="#999" stroke-width="0.8"/>
<text transform="translate(329.56,518.8) scale(1,1) rotate(-45)" font-family="Liberation Sans, sans-serif" font-weight="bold" stroke="#000" stroke-width="0.12" font-size="7" text-anchor="end">ether 2 SE</text>
<line x1="348.69" y1="511" x2="348.69" y2="512.8" stroke="#999" stroke-width="0.8"/>
<text transform="translate(350.99,518.8) scale(1,1) rotate(-45)" font-family="Liberation Sans, sans-serif" font-weight="bold" stroke="#000" stroke-width="0.12" font-size="7" text-anchor="end">ether 3 SE</text>
<line x1="370.12" y1="511" x2="370.12" y2="512.8" stroke="#999" stroke-width="0.8"/>
<text transform="translate(372.42,518.8) scale(1,1) rotate(-45)" font-family="Liberation Sans, sans-serif" font-weight="bold" stroke="#000" stroke-width="0.12" font-size="7" text-anchor="end">ether 4 SE</text>
<line x1="391.55" y1="511" x2="391.55" y2="512.8" stroke="#999" stroke-width="0.8"/>
<text transform="translate(393.85,518.8) scale(1,1) rotate(-45)" font-family="Liberation Sans, sans-serif" font-weight="bold" stroke="#000" stroke-width="0.12" font-size="7" text-anchor="end">ether 5 SE</text>
<line x1="412.98" y1="511" x2="412.98" y2="512.8" stroke="#999" stroke-width="0.8"/>
<text transform="translate(415.28,518.8) scale(1,1) rotate(-45)" font-family="Liberation Sans, sans-serif" font-weight="bold" stroke="#000" stroke-width="0.12" font-size="7" text-anchor="end">shark squalene MF59-like</text>
<line x1="434.41" y1="511" x2="434.41" y2="512.8" stroke="#999" stroke-width="0.8"/>
<text transform="translate(436.71,518.8) scale(1,1) rotate(-45)" font-family="Liberation Sans, sans-serif" font-weight="bold" stroke="#000" stroke-width="0.12" font-size="7" text-anchor="end">diols B MF59-like</text>
<text transform="translate(240.9,481) scale(1,1) rotate(-90)" font-family="Liberation Sans, sans-serif" font-weight="bold" stroke="#000" stroke-width="0.12" font-size="7.6" text-anchor="middle" dominant-baseline="central">Bone Marrow Plasma Cells</text>
<text transform="translate(250.6,481) scale(1,1) rotate(-90)" font-family="Liberation Sans, sans-serif" font-weight="bold" stroke="#000" stroke-width="0.12" font-size="7.66" text-anchor="middle" dominant-baseline="central">(Log<tspan font-size="5.8" dy="1.5">10</tspan><tspan dy="-1.5"> spots/million cells)</tspan></text>
<g stroke="#1d7048" stroke-width="0.8" fill="none">
<line x1="280.9" y1="485.6" x2="287.9" y2="485.6" stroke-opacity="0.55"/>
<line x1="280.9" y1="494.9" x2="287.9" y2="494.9" stroke-opacity="0.55"/>
<rect x="277.3" y="485.8" width="14.2" height="9.1"/>
<line x1="277.3" y1="487" x2="291.5" y2="487"/>
</g>
<circle cx="277.8" cy="485.6" r="1.35" fill="#1d7048"/>
<circle cx="282" cy="485.6" r="1.15" fill="#fff" stroke="#1d7048" stroke-width="0.7"/>
<circle cx="286.2" cy="485.6" r="1.35" fill="#1d7048"/>
<circle cx="290.4" cy="485.6" r="1.35" fill="#1d7048"/>
<circle cx="282" cy="487" r="1.15" fill="#fff" stroke="#1d7048" stroke-width="0.7"/>
<circle cx="286.2" cy="487" r="1.35" fill="#1d7048"/>
<circle cx="279.6" cy="494.9" r="1.15" fill="#fff" stroke="#1d7048" stroke-width="0.7"/>
<circle cx="284.4" cy="493" r="1.15" fill="#fff" stroke="#1d7048" stroke-width="0.7"/>
<circle cx="288" cy="494.9" r="1.15" fill="#fff" stroke="#1d7048" stroke-width="0.7"/>
<g stroke="#0000ff" stroke-width="0.8" fill="none">
<line x1="305.83" y1="476.2" x2="305.83" y2="480.4"/>
<line x1="302.33" y1="476.2" x2="309.33" y2="476.2" stroke-opacity="0.55"/>
<line x1="305.83" y1="493.7" x2="305.83" y2="498.6"/>
<line x1="302.33" y1="498.6" x2="309.33" y2="498.6" stroke-opacity="0.55"/>
<rect x="298.73" y="480.4" width="14.2" height="13.3"/>
<line x1="298.73" y1="485.6" x2="312.93" y2="485.6"/>
</g>
<circle cx="305.83" cy="476.2" r="1.35" fill="#0000ff"/>
<circle cx="305.83" cy="479" r="1.35" fill="#0000ff"/>
<circle cx="305.83" cy="483" r="1.35" fill="#0000ff"/>
<circle cx="303.23" cy="485.6" r="1.35" fill="#0000ff"/>
<circle cx="308.33" cy="486" r="1.15" fill="#fff" stroke="#0000ff" stroke-width="0.7"/>
<circle cx="305.83" cy="489.3" r="1.15" fill="#fff" stroke="#0000ff" stroke-width="0.7"/>
<circle cx="305.83" cy="494.9" r="1.35" fill="#0000ff"/>
<circle cx="305.83" cy="498.6" r="1.35" fill="#0000ff"/>
<g stroke="#1ec81e" stroke-width="0.8" fill="none">
<line x1="327.26" y1="485.8" x2="327.26" y2="487.9"/>
<line x1="323.76" y1="485.8" x2="330.76" y2="485.8" stroke-opacity="0.55"/>
<line x1="327.26" y1="491.8" x2="327.26" y2="498.6"/>
<line x1="323.76" y1="498.6" x2="330.76" y2="498.6" stroke-opacity="0.55"/>
<rect x="320.16" y="487.9" width="14.2" height="3.9"/>
<line x1="320.16" y1="490.5" x2="334.36" y2="490.5"/>
</g>
<circle cx="325.16" cy="485.8" r="1.35" fill="#1ec81e"/>
<circle cx="329.26" cy="486.8" r="1.35" fill="#1ec81e"/>
<circle cx="320.96" cy="490.5" r="1.15" fill="#fff" stroke="#1ec81e" stroke-width="0.7"/>
<circle cx="325.16" cy="489.3" r="1.15" fill="#fff" stroke="#1ec81e" stroke-width="0.7"/>
<circle cx="329.26" cy="491.5" r="1.35" fill="#1ec81e"/>
<circle cx="333.56" cy="490.5" r="1.15" fill="#fff" stroke="#1ec81e" stroke-width="0.7"/>
<circle cx="327.26" cy="493.5" r="1.35" fill="#1ec81e"/>
<circle cx="327.26" cy="498.6" r="1.35" fill="#1ec81e"/>
<g stroke="#b000f0" stroke-width="0.8" fill="none">
<line x1="348.69" y1="478.2" x2="348.69" y2="482"/>
<line x1="345.19" y1="478.2" x2="352.19" y2="478.2" stroke-opacity="0.55"/>
<line x1="348.69" y1="491.5" x2="348.69" y2="496.6"/>
<line x1="345.19" y1="496.6" x2="352.19" y2="496.6" stroke-opacity="0.55"/>
<rect x="341.59" y="482" width="14.2" height="9.5"/>
<line x1="341.59" y1="487.3" x2="355.79" y2="487.3"/>
</g>
<circle cx="348.69" cy="478.2" r="1.35" fill="#b000f0"/>
<circle cx="348.69" cy="480.5" r="1.35" fill="#b000f0"/>
<circle cx="350.99" cy="485" r="1.35" fill="#b000f0"/>
<circle cx="346.39" cy="487.3" r="1.15" fill="#fff" stroke="#b000f0" stroke-width="0.7"/>
<circle cx="350.99" cy="487.3" r="1.15" fill="#fff" stroke="#b000f0" stroke-width="0.7"/>
<circle cx="346.39" cy="490.7" r="1.35" fill="#b000f0"/>
<circle cx="350.99" cy="490.7" r="1.15" fill="#fff" stroke="#b000f0" stroke-width="0.7"/>
<circle cx="350.99" cy="492.2" r="1.35" fill="#b000f0"/>
<circle cx="348.69" cy="496.6" r="1.35" fill="#b000f0"/>
<g stroke="#ff8000" stroke-width="0.8" fill="none">
<line x1="366.62" y1="478.2" x2="373.62" y2="478.2" stroke-opacity="0.55"/>
<line x1="366.62" y1="492.2" x2="373.62" y2="492.2" stroke-opacity="0.55"/>
<rect x="363.02" y="478.4" width="14.2" height="13.6"/>
<line x1="363.02" y1="486.6" x2="377.22" y2="486.6"/>
</g>
<circle cx="365.62" cy="478.2" r="1.35" fill="#ff8000"/>
<circle cx="370.12" cy="479.3" r="1.35" fill="#ff8000"/>
<circle cx="374.52" cy="479.3" r="1.15" fill="#fff" stroke="#ff8000" stroke-width="0.7"/>
<circle cx="370.12" cy="485" r="1.15" fill="#fff" stroke="#ff8000" stroke-width="0.7"/>
<circle cx="374.52" cy="487.3" r="1.15" fill="#fff" stroke="#ff8000" stroke-width="0.7"/>
<circle cx="370.12" cy="489.6" r="1.35" fill="#ff8000"/>
<circle cx="365.62" cy="492.2" r="1.35" fill="#ff8000"/>
<circle cx="374.52" cy="491.6" r="1.15" fill="#fff" stroke="#ff8000" stroke-width="0.7"/>
<g stroke="#000000" stroke-width="0.8" fill="none">
<line x1="391.55" y1="479.3" x2="391.55" y2="480.1"/>
<line x1="388.05" y1="479.3" x2="395.05" y2="479.3" stroke-opacity="0.55"/>
<line x1="391.55" y1="492.4" x2="391.55" y2="498"/>
<line x1="388.05" y1="498" x2="395.05" y2="498" stroke-opacity="0.55"/>
<rect x="384.45" y="480.1" width="14.2" height="12.3"/>
<line x1="384.45" y1="484.2" x2="398.65" y2="484.2"/>
</g>
<circle cx="387.05" cy="479.3" r="1.35" fill="#000000"/>
<circle cx="391.55" cy="479.8" r="1.35" fill="#000000"/>
<circle cx="395.95" cy="479.3" r="1.35" fill="#000000"/>
<circle cx="387.05" cy="483.3" r="1.35" fill="#000000"/>
<circle cx="391.55" cy="485.4" r="1.15" fill="#fff" stroke="#000000" stroke-width="0.7"/>
<circle cx="391.55" cy="490.1" r="1.15" fill="#fff" stroke="#000000" stroke-width="0.7"/>
<circle cx="391.55" cy="492.9" r="1.15" fill="#fff" stroke="#000000" stroke-width="0.7"/>
<circle cx="391.55" cy="498" r="1.35" fill="#000000"/>
<g stroke="#9a6a2a" stroke-width="0.8" fill="none">
<line x1="412.98" y1="473.4" x2="412.98" y2="477.3"/>
<line x1="409.48" y1="473.4" x2="416.48" y2="473.4" stroke-opacity="0.55"/>
<line x1="412.98" y1="487.5" x2="412.98" y2="489.5"/>
<line x1="409.48" y1="489.5" x2="416.48" y2="489.5" stroke-opacity="0.55"/>
<rect x="405.88" y="477.3" width="14.2" height="10.2"/>
<line x1="405.88" y1="482.3" x2="420.08" y2="482.3"/>
</g>
<circle cx="412.98" cy="473.4" r="1.35" fill="#9a6a2a"/>
<circle cx="410.78" cy="476.9" r="1.35" fill="#9a6a2a"/>
<circle cx="410.78" cy="479.5" r="1.35" fill="#9a6a2a"/>
<circle cx="415.18" cy="478.2" r="1.35" fill="#9a6a2a"/>
<circle cx="410.78" cy="486.3" r="1.35" fill="#9a6a2a"/>
<circle cx="410.78" cy="489.5" r="1.35" fill="#9a6a2a"/>
<circle cx="415.18" cy="485" r="1.15" fill="#fff" stroke="#9a6a2a" stroke-width="0.7"/>
<circle cx="415.18" cy="488.2" r="1.15" fill="#fff" stroke="#9a6a2a" stroke-width="0.7"/>
<g stroke="#1a1a99" stroke-width="0.8" fill="none">
<line x1="434.41" y1="461.9" x2="434.41" y2="466.2"/>
<line x1="430.91" y1="461.9" x2="437.91" y2="461.9" stroke-opacity="0.55"/>
<line x1="434.41" y1="480.5" x2="434.41" y2="484"/>
<line x1="430.91" y1="484" x2="437.91" y2="484" stroke-opacity="0.55"/>
<rect x="427.31" y="466.2" width="14.2" height="14.3"/>
<line x1="427.31" y1="470.3" x2="441.51" y2="470.3"/>
</g>
<circle cx="434.41" cy="461.9" r="1.35" fill="#1a1a99"/>
<circle cx="432.01" cy="466" r="1.35" fill="#1a1a99"/>
<circle cx="436.81" cy="467" r="1.35" fill="#1a1a99"/>
<circle cx="434.41" cy="469.6" r="1.35" fill="#1a1a99"/>
<circle cx="434.41" cy="471.8" r="1.15" fill="#fff" stroke="#1a1a99" stroke-width="0.7"/>
<circle cx="434.41" cy="477.9" r="1.15" fill="#fff" stroke="#1a1a99" stroke-width="0.7"/>
<circle cx="431.61" cy="484" r="1.35" fill="#1a1a99"/>
<circle cx="435.21" cy="482.1" r="1.15" fill="#fff" stroke="#1a1a99" stroke-width="0.7"/>
<circle cx="436.81" cy="483.7" r="1.15" fill="#fff" stroke="#1a1a99" stroke-width="0.7"/>
<path d="M284.4,482 V443.2 H434.41 V452" stroke="#555" stroke-width="0.9" fill="none"/>
<circle cx="354.3" cy="439.3" r="1.15" fill="#1a1a1a"/>
<circle cx="357.7" cy="439.3" r="1.15" fill="#1a1a1a"/>
<circle cx="361.1" cy="439.3" r="1.15" fill="#1a1a1a"/>
<circle cx="364.5" cy="439.3" r="1.15" fill="#1a1a1a"/>
<path d="M412.98,470 V455.4 H434.41 V458" stroke="#555" stroke-width="0.9" fill="none"/>
<circle cx="423.69" cy="451.5" r="1.15" fill="#1a1a1a"/>
<text x="472.2" y="421.8" font-family="Liberation Sans, sans-serif" font-weight="bold" stroke="#000" stroke-width="0.12" font-size="10">i (Day 42)</text>
<line x1="505.6" y1="454" x2="505.6" y2="511.4" stroke="#555" stroke-width="1"/>
<line x1="503.8" y1="511.4" x2="505.6" y2="511.4" stroke="#555" stroke-width="0.9"/>
<text transform="translate(503.6,511.4) scale(1,1)" y="2.55" font-family="Liberation Sans, sans-serif" font-weight="bold" stroke="#000" stroke-width="0.12" font-size="7.3" text-anchor="end">2</text>
<line x1="503.8" y1="499.92" x2="505.6" y2="499.92" stroke="#555" stroke-width="0.9"/>
<text transform="translate(503.6,499.92) scale(1,1)" y="2.55" font-family="Liberation Sans, sans-serif" font-weight="bold" stroke="#000" stroke-width="0.12" font-size="7.3" text-anchor="end">4</text>
<line x1="503.8" y1="488.44" x2="505.6" y2="488.44" stroke="#555" stroke-width="0.9"/>
<text transform="translate(503.6,488.44) scale(1,1)" y="2.55" font-family="Liberation Sans, sans-serif" font-weight="bold" stroke="#000" stroke-width="0.12" font-size="7.3" text-anchor="end">6</text>
<line x1="503.8" y1="476.96" x2="505.6" y2="476.96" stroke="#555" stroke-width="0.9"/>
<text transform="translate(503.6,476.96) scale(1,1)" y="2.55" font-family="Liberation Sans, sans-serif" font-weight="bold" stroke="#000" stroke-width="0.12" font-size="7.3" text-anchor="end">8</text>
<line x1="503.8" y1="465.48" x2="505.6" y2="465.48" stroke="#555" stroke-width="0.9"/>
<text transform="translate(503.6,465.48) scale(1,1)" y="2.55" font-family="Liberation Sans, sans-serif" font-weight="bold" stroke="#000" stroke-width="0.12" font-size="7.3" text-anchor="end">10</text>
<line x1="503.8" y1="454" x2="505.6" y2="454" stroke="#555" stroke-width="0.9"/>
<text transform="translate(503.6,454) scale(1,1)" y="2.55" font-family="Liberation Sans, sans-serif" font-weight="bold" stroke="#000" stroke-width="0.12" font-size="7.3" text-anchor="end">12</text>
<line x1="505.6" y1="511.4" x2="685" y2="511.4" stroke="#555" stroke-width="1"/>
<line x1="519.6" y1="511.4" x2="519.6" y2="513.2" stroke="#999" stroke-width="0.8"/>
<text transform="translate(521.9,519.2) scale(1,1) rotate(-45)" font-family="Liberation Sans, sans-serif" font-weight="bold" stroke="#000" stroke-width="0.12" font-size="7" text-anchor="end">None</text>
<line x1="541.2" y1="511.4" x2="541.2" y2="513.2" stroke="#999" stroke-width="0.8"/>
<text transform="translate(543.5,519.2) scale(1,1) rotate(-45)" font-family="Liberation Sans, sans-serif" font-weight="bold" stroke="#000" stroke-width="0.12" font-size="7" text-anchor="end">shark squalene SE</text>
<line x1="562.8" y1="511.4" x2="562.8" y2="513.2" stroke="#999" stroke-width="0.8"/>
<text transform="translate(565.1,519.2) scale(1,1) rotate(-45)" font-family="Liberation Sans, sans-serif" font-weight="bold" stroke="#000" stroke-width="0.12" font-size="7" text-anchor="end">ether 2 SE</text>
<line x1="584.4" y1="511.4" x2="584.4" y2="513.2" stroke="#999" stroke-width="0.8"/>
<text transform="translate(586.7,519.2) scale(1,1) rotate(-45)" font-family="Liberation Sans, sans-serif" font-weight="bold" stroke="#000" stroke-width="0.12" font-size="7" text-anchor="end">ether 3 SE</text>
<line x1="606" y1="511.4" x2="606" y2="513.2" stroke="#999" stroke-width="0.8"/>
<text transform="translate(608.3,519.2) scale(1,1) rotate(-45)" font-family="Liberation Sans, sans-serif" font-weight="bold" stroke="#000" stroke-width="0.12" font-size="7" text-anchor="end">ether 4 SE</text>
<line x1="627.6" y1="511.4" x2="627.6" y2="513.2" stroke="#999" stroke-width="0.8"/>
<text transform="translate(629.9,519.2) scale(1,1) rotate(-45)" font-family="Liberation Sans, sans-serif" font-weight="bold" stroke="#000" stroke-width="0.12" font-size="7" text-anchor="end">ether 5 SE</text>
<line x1="649.2" y1="511.4" x2="649.2" y2="513.2" stroke="#999" stroke-width="0.8"/>
<text transform="translate(651.5,519.2) scale(1,1) rotate(-45)" font-family="Liberation Sans, sans-serif" font-weight="bold" stroke="#000" stroke-width="0.12" font-size="7" text-anchor="end">shark squalene MF59-like</text>
<line x1="670.8" y1="511.4" x2="670.8" y2="513.2" stroke="#999" stroke-width="0.8"/>
<text transform="translate(673.1,519.2) scale(1,1) rotate(-45)" font-family="Liberation Sans, sans-serif" font-weight="bold" stroke="#000" stroke-width="0.12" font-size="7" text-anchor="end">diols B MF59-like</text>
<text transform="translate(479.1,481.5) scale(1,0.9) rotate(-90)" font-family="Liberation Sans, sans-serif" font-weight="bold" stroke="#000" stroke-width="0.12" font-size="8.2" text-anchor="middle" dominant-baseline="central">HAI Titer</text>
<text transform="translate(488.6,482.8) scale(1,0.94) rotate(-90)" font-family="Liberation Sans, sans-serif" font-weight="bold" stroke="#000" stroke-width="0.12" font-size="8.2" text-anchor="middle" dominant-baseline="central">Log<tspan font-size="6.6" dy="1.8">2</tspan></text>
<g stroke="#1d7048" stroke-width="0.8" fill="none">
<line x1="519.6" y1="463.8" x2="519.6" y2="480.9"/>
<line x1="516.2" y1="463.8" x2="523" y2="463.8" stroke-opacity="0.55"/>
<line x1="516.2" y1="486.7" x2="523" y2="486.7" stroke-opacity="0.55"/>
<rect x="512.5" y="480.9" width="14.2" height="5.8"/>
<line x1="512.5" y1="482.8" x2="526.7" y2="482.8"/>
</g>
<circle cx="519.6" cy="463.8" r="1.35" fill="#1d7048"/>
<circle cx="515.1" cy="480.9" r="1.35" fill="#1d7048"/>
<circle cx="519.6" cy="480.9" r="1.35" fill="#1d7048"/>
<circle cx="524.1" cy="480.9" r="1.35" fill="#1d7048"/>
<circle cx="515.1" cy="486.7" r="1.35" fill="#1d7048"/>
<circle cx="519.6" cy="486.7" r="1.15" fill="#fff" stroke="#1d7048" stroke-width="0.7"/>
<circle cx="524.1" cy="486.7" r="1.35" fill="#1d7048"/>
<g stroke="#0000ff" stroke-width="0.8" fill="none">
<line x1="541.2" y1="457.8" x2="541.2" y2="464.2"/>
<line x1="537.8" y1="457.8" x2="544.6" y2="457.8" stroke-opacity="0.55"/>
<line x1="541.2" y1="480.9" x2="541.2" y2="486.7"/>
<line x1="537.8" y1="486.7" x2="544.6" y2="486.7" stroke-opacity="0.55"/>
<rect x="534.1" y="464.2" width="14.2" height="16.7"/>
<line x1="534.1" y1="480" x2="548.3" y2="480"/>
</g>
<circle cx="541.2" cy="457.8" r="1.35" fill="#0000ff"/>
<circle cx="541.2" cy="464.2" r="1.35" fill="#0000ff"/>
<circle cx="541.2" cy="469.4" r="1.35" fill="#0000ff"/>
<circle cx="536.1" cy="480.9" r="1.15" fill="#fff" stroke="#0000ff" stroke-width="0.7"/>
<circle cx="541.2" cy="480.9" r="1.35" fill="#0000ff"/>
<circle cx="546" cy="480.9" r="1.15" fill="#fff" stroke="#0000ff" stroke-width="0.7"/>
<circle cx="541.2" cy="486.7" r="1.35" fill="#0000ff"/>
<g stroke="#1ec81e" stroke-width="0.8" fill="none">
<line x1="559.4" y1="475.4" x2="566.2" y2="475.4" stroke-opacity="0.55"/>
<line x1="559.4" y1="486.7" x2="566.2" y2="486.7" stroke-opacity="0.55"/>
<rect x="555.7" y="475.4" width="14.2" height="11.3"/>
<line x1="555.7" y1="484.1" x2="569.9" y2="484.1"/>
</g>
<circle cx="558.7" cy="475.4" r="1.35" fill="#1ec81e"/>
<circle cx="562.8" cy="475.4" r="1.35" fill="#1ec81e"/>
<circle cx="566.9" cy="475.4" r="1.35" fill="#1ec81e"/>
<circle cx="562.8" cy="481.3" r="1.15" fill="#fff" stroke="#1ec81e" stroke-width="0.7"/>
<circle cx="556.6" cy="486.7" r="1.15" fill="#fff" stroke="#1ec81e" stroke-width="0.7"/>
<circle cx="560.9" cy="486.7" r="1.35" fill="#1ec81e"/>
<circle cx="565" cy="486.7" r="1.15" fill="#fff" stroke="#1ec81e" stroke-width="0.7"/>
<circle cx="569.2" cy="486.7" r="1.35" fill="#1ec81e"/>
<g stroke="#b000f0" stroke-width="0.8" fill="none">
<line x1="584.4" y1="457.8" x2="584.4" y2="475.4"/>
<line x1="581" y1="457.8" x2="587.8" y2="457.8" stroke-opacity="0.55"/>
<line x1="584.4" y1="480.9" x2="584.4" y2="486.7"/>
<line x1="581" y1="486.7" x2="587.8" y2="486.7" stroke-opacity="0.55"/>
<rect x="577.3" y="475.4" width="14.2" height="5.5"/>
<line x1="577.3" y1="478.3" x2="591.5" y2="478.3"/>
</g>
<circle cx="584.4" cy="457.8" r="1.35" fill="#b000f0"/>
<circle cx="579.5" cy="475.4" r="1.35" fill="#b000f0"/>
<circle cx="584.4" cy="475.4" r="1.35" fill="#b000f0"/>
<circle cx="588.9" cy="475.4" r="1.15" fill="#fff" stroke="#b000f0" stroke-width="0.7"/>
<circle cx="579.5" cy="480.9" r="1.35" fill="#b000f0"/>
<circle cx="584.4" cy="480.9" r="1.35" fill="#b000f0"/>
<circle cx="588.9" cy="480.9" r="1.15" fill="#fff" stroke="#b000f0" stroke-width="0.7"/>
<circle cx="584.4" cy="486.7" r="1.35" fill="#b000f0"/>
<g stroke="#ff8000" stroke-width="0.8" fill="none">
<line x1="602.6" y1="469.4" x2="609.4" y2="469.4" stroke-opacity="0.55"/>
<line x1="602.6" y1="486.7" x2="609.4" y2="486.7" stroke-opacity="0.55"/>
<rect x="598.9" y="469.4" width="14.2" height="17.3"/>
<line x1="598.9" y1="471.9" x2="613.1" y2="471.9"/>
</g>
<circle cx="600" cy="469.4" r="1.35" fill="#ff8000"/>
<circle cx="603.8" cy="469.4" r="1.15" fill="#fff" stroke="#ff8000" stroke-width="0.7"/>
<circle cx="608" cy="469.4" r="1.15" fill="#fff" stroke="#ff8000" stroke-width="0.7"/>
<circle cx="612.2" cy="469.4" r="1.35" fill="#ff8000"/>
<circle cx="606" cy="475.4" r="1.35" fill="#ff8000"/>
<circle cx="601.9" cy="486.7" r="1.15" fill="#fff" stroke="#ff8000" stroke-width="0.7"/>
<circle cx="606" cy="486.7" r="1.35" fill="#ff8000"/>
<circle cx="610.2" cy="486.7" r="1.15" fill="#fff" stroke="#ff8000" stroke-width="0.7"/>
<g stroke="#000000" stroke-width="0.8" fill="none">
<line x1="624.2" y1="463.8" x2="631" y2="463.8" stroke-opacity="0.55"/>
<line x1="627.6" y1="481.3" x2="627.6" y2="486.7"/>
<line x1="624.2" y1="486.7" x2="631" y2="486.7" stroke-opacity="0.55"/>
<rect x="620.5" y="463.8" width="14.2" height="17.5"/>
<line x1="620.5" y1="480.5" x2="634.7" y2="480.5"/>
</g>
<circle cx="622.8" cy="463.8" r="1.35" fill="#000000"/>
<circle cx="627.6" cy="463.8" r="1.35" fill="#000000"/>
<circle cx="631.8" cy="463.8" r="1.35" fill="#000000"/>
<circle cx="620.9" cy="481.3" r="1.15" fill="#fff" stroke="#000000" stroke-width="0.7"/>
<circle cx="625" cy="481.3" r="1.15" fill="#fff" stroke="#000000" stroke-width="0.7"/>
<circle cx="629.3" cy="481.3" r="1.35" fill="#000000"/>
<circle cx="633.5" cy="481.3" r="1.15" fill="#fff" stroke="#000000" stroke-width="0.7"/>
<circle cx="627.6" cy="486.7" r="1.35" fill="#000000"/>
<g stroke="#9a6a2a" stroke-width="0.8" fill="none">
<line x1="645.8" y1="457.8" x2="652.6" y2="457.8" stroke-opacity="0.55"/>
<line x1="649.2" y1="479.6" x2="649.2" y2="481.3"/>
<line x1="645.8" y1="481.3" x2="652.6" y2="481.3" stroke-opacity="0.55"/>
<rect x="642.1" y="457.8" width="14.2" height="21.8"/>
<line x1="642.1" y1="475.4" x2="656.3" y2="475.4"/>
</g>
<circle cx="646.6" cy="457.8" r="1.15" fill="#fff" stroke="#9a6a2a" stroke-width="0.7"/>
<circle cx="651.2" cy="457.8" r="1.35" fill="#9a6a2a"/>
<circle cx="649.2" cy="469.4" r="1.35" fill="#9a6a2a"/>
<circle cx="646.6" cy="475.4" r="1.15" fill="#fff" stroke="#9a6a2a" stroke-width="0.7"/>
<circle cx="651.2" cy="475.4" r="1.15" fill="#fff" stroke="#9a6a2a" stroke-width="0.7"/>
<circle cx="646.6" cy="481.3" r="1.15" fill="#fff" stroke="#9a6a2a" stroke-width="0.7"/>
<circle cx="651.2" cy="481.3" r="1.35" fill="#9a6a2a"/>
<g stroke="#1a1a99" stroke-width="0.8" fill="none">
<line x1="667.4" y1="457.8" x2="674.2" y2="457.8" stroke-opacity="0.55"/>
<line x1="670.8" y1="480.3" x2="670.8" y2="481.3"/>
<line x1="667.4" y1="481.3" x2="674.2" y2="481.3" stroke-opacity="0.55"/>
<rect x="663.7" y="457.8" width="14.2" height="22.5"/>
<line x1="663.7" y1="463.6" x2="677.9" y2="463.6"/>
</g>
<circle cx="665.9" cy="457.8" r="1.35" fill="#1a1a99"/>
<circle cx="670.8" cy="457.8" r="1.15" fill="#fff" stroke="#1a1a99" stroke-width="0.7"/>
<circle cx="675.7" cy="457.8" r="1.35" fill="#1a1a99"/>
<circle cx="668.2" cy="463.8" r="1.15" fill="#fff" stroke="#1a1a99" stroke-width="0.7"/>
<circle cx="673.4" cy="463.8" r="1.15" fill="#fff" stroke="#1a1a99" stroke-width="0.7"/>
<circle cx="668.2" cy="481.3" r="1.35" fill="#1a1a99"/>
<circle cx="673.4" cy="481.3" r="1.15" fill="#fff" stroke="#1a1a99" stroke-width="0.7"/>
</svg>
</body></html>
